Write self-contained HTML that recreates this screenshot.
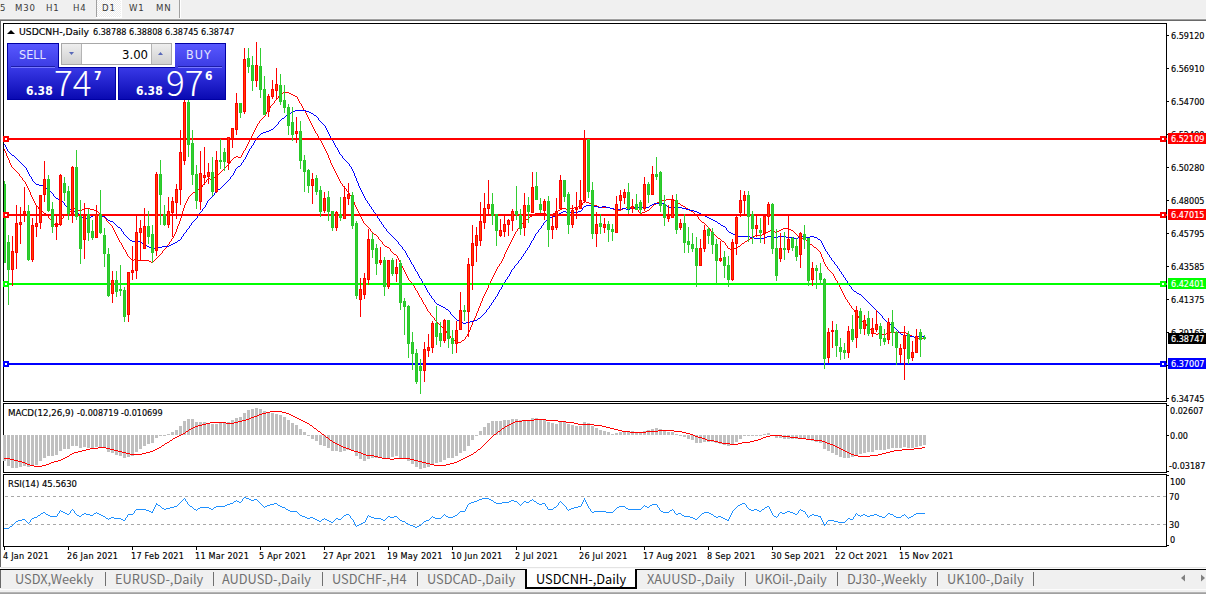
<!DOCTYPE html>
<html><head><meta charset="utf-8"><style>
*{margin:0;padding:0;box-sizing:border-box}
html,body{width:1206px;height:594px;overflow:hidden;background:#fff}
body{position:relative;font-family:"DejaVu Sans Condensed","DejaVu Sans","Liberation Sans",sans-serif}
.abs{position:absolute}
#tb{position:absolute;left:0;top:0;width:1206px;height:19px;background:#f0f0f0}
.tf{position:absolute;top:2px;font-size:9.5px;letter-spacing:0.9px;line-height:12px;color:#3a3a3a;font-family:"DejaVu Sans Condensed","DejaVu Sans",sans-serif;white-space:nowrap}
svg{position:absolute;left:0;top:0}
.ax{font-family:"DejaVu Sans Condensed","DejaVu Sans",sans-serif;font-size:9px;fill:#000;stroke:#000;stroke-width:0.15px}
.axw{fill:#fff;stroke:#fff}
.tl{letter-spacing:0.25px}
#tabbar{position:absolute;left:0;top:567px;width:1206px;height:27px;background:#f0f0f0}
.tab{position:absolute;top:3px;font-family:"Noto Sans CJK SC","Liberation Sans",sans-serif;font-size:12.8px;line-height:17px;color:#707070;white-space:nowrap}
.tab.act{color:#000}
.tsep{position:absolute;top:5px;width:1px;height:14px;background:#707070}
.pn{position:absolute;color:#fff;white-space:nowrap;font-family:"DejaVu Sans Condensed","DejaVu Sans",sans-serif;line-height:1}
</style></head><body>
<div id="tb">
<div class="tf" style="left:0">5</div>
<div class="tf" style="left:15px">M30</div>
<div class="tf" style="left:46px">H1</div>
<div class="tf" style="left:73px">H4</div>
<svg class="abs" style="left:96px;top:0" width="26" height="18" shape-rendering="crispEdges"><defs><pattern id="dith" width="2" height="2" patternUnits="userSpaceOnUse"><rect width="2" height="2" fill="#ececec"/><rect width="1" height="1" fill="#fff"/><rect x="1" y="1" width="1" height="1" fill="#fff"/></pattern></defs><rect x="0" y="0" width="1" height="17" fill="#a0a0a0"/><rect x="1" y="0" width="24" height="17" fill="url(#dith)"/><rect x="25" y="0" width="1" height="18" fill="#fff"/><rect x="0" y="17" width="26" height="1" fill="#fff"/></svg>
<div class="tf" style="left:102px">D1</div>
<div class="tf" style="left:129px">W1</div>
<div class="tf" style="left:156px">MN</div>
<div class="abs" style="left:179px;top:0;width:1px;height:18px;background:#a0a0a0"></div>
<div class="abs" style="left:180px;top:0;width:1px;height:18px;background:#fff"></div>
<div class="abs" style="left:0;top:18px;width:1206px;height:1px;background:#f4f4f4"></div>
</div>
<div class="abs" style="left:0;top:19px;width:1206px;height:1px;background:#a0a0a0"></div>
<div class="abs" style="left:0;top:20px;width:1206px;height:1px;background:#696969"></div>
<div class="abs" style="left:0;top:20px;width:1px;height:547px;background:#696969"></div>
<svg width="1206" height="594" viewBox="0 0 1206 594" shape-rendering="crispEdges">
<path d="M37 206h1v1h-1zM184 206h1v1h-1zM355 206h1v1h-1zM578 206h3v1h-3zM597 206h2v1h-2zM652 206h1v1h-1zM683 206h2v1h-2zM443 328h1v1h-1zM470 328h1v1h-1zM869 328h1v1h-1zM255 128h1v1h-1zM313 128h1v1h-1zM246 146h1v1h-1zM323 146h1v1h-1zM43 212h1v1h-1zM69 212h1v1h-1zM98 212h1v1h-1zM182 212h1v1h-1zM358 212h1v1h-1zM555 212h2v1h-2zM639 212h1v1h-1zM642 212h3v1h-3zM693 212h1v1h-1zM116 234h1v1h-1zM174 234h1v1h-1zM374 234h2v1h-2zM514 234h1v1h-1zM714 234h1v1h-1zM762 234h3v1h-3zM796 234h1v1h-1zM448 334h1v1h-1zM467 334h1v1h-1zM876 334h2v1h-2zM882 334h4v1h-4zM909 334h1v1h-1zM35 203h1v1h-1zM185 203h1v1h-1zM354 203h1v1h-1zM582 203h1v1h-1zM589 203h2v1h-2zM656 203h1v1h-1zM678 203h2v1h-2zM27 187h1v1h-1zM201 187h1v1h-1zM344 187h1v1h-1zM39 209h1v1h-1zM72 209h2v1h-2zM77 209h1v1h-1zM82 209h2v1h-2zM90 209h4v1h-4zM183 209h1v1h-1zM357 209h1v1h-1zM560 209h2v1h-2zM566 209h4v1h-4zM613 209h2v1h-2zM621 209h2v1h-2zM637 209h1v1h-1zM649 209h1v1h-1zM688 209h1v1h-1zM114 231h1v1h-1zM176 231h1v1h-1zM371 231h1v1h-1zM516 231h1v1h-1zM711 231h1v1h-1zM768 231h2v1h-2zM773 231h2v1h-2zM777 231h2v1h-2zM793 231h1v1h-1zM132 260h2v1h-2zM138 260h11v1h-11zM154 260h1v1h-1zM399 260h1v1h-1zM502 260h1v1h-1zM823 260h1v1h-1zM267 111h1v1h-1zM305 111h1v1h-1zM49 218h1v1h-1zM62 218h1v1h-1zM105 218h1v1h-1zM180 218h1v1h-1zM361 218h1v1h-1zM528 218h1v1h-1zM698 218h1v1h-1zM36 205h1v1h-1zM184 205h1v1h-1zM355 205h1v1h-1zM581 205h1v1h-1zM594 205h3v1h-3zM653 205h1v1h-1zM681 205h2v1h-2zM115 233h1v1h-1zM175 233h1v1h-1zM373 233h1v1h-1zM515 233h1v1h-1zM713 233h1v1h-1zM765 233h1v1h-1zM795 233h1v1h-1zM15 170h1v1h-1zM222 170h1v1h-1zM334 170h1v1h-1zM33 199h1v1h-1zM187 199h1v1h-1zM352 199h1v1h-1zM666 199h7v1h-7zM446 332h1v1h-1zM468 332h1v1h-1zM873 332h1v1h-1zM890 332h16v1h-16zM22 179h1v1h-1zM207 179h1v1h-1zM210 179h3v1h-3zM339 179h1v1h-1zM28 188h1v1h-1zM200 188h1v1h-1zM345 188h1v1h-1zM250 139h1v1h-1zM319 139h1v1h-1zM50 219h1v1h-1zM61 219h1v1h-1zM106 219h1v1h-1zM180 219h1v1h-1zM362 219h1v1h-1zM526 219h2v1h-2zM699 219h1v1h-1zM26 184h1v1h-1zM203 184h1v1h-1zM342 184h1v1h-1zM19 175h1v1h-1zM217 175h1v1h-1zM337 175h1v1h-1zM409 280h1v1h-1zM491 280h1v1h-1zM836 280h1v1h-1zM116 235h1v1h-1zM174 235h1v1h-1zM376 235h1v1h-1zM514 235h1v1h-1zM715 235h1v1h-1zM755 235h7v1h-7zM797 235h1v1h-1zM425 306h1v1h-1zM479 306h1v1h-1zM851 306h1v1h-1zM30 193h1v1h-1zM192 193h1v1h-1zM349 193h1v1h-1zM44 213h2v1h-2zM67 213h2v1h-2zM99 213h1v1h-1zM182 213h1v1h-1zM359 213h1v1h-1zM535 213h11v1h-11zM553 213h2v1h-2zM640 213h2v1h-2zM694 213h1v1h-1zM421 299h1v1h-1zM482 299h1v1h-1zM846 299h1v1h-1zM428 311h1v1h-1zM477 311h1v1h-1zM854 311h1v1h-1zM406 274h1v1h-1zM494 274h1v1h-1zM833 274h1v1h-1zM121 244h1v1h-1zM168 244h1v1h-1zM383 244h1v1h-1zM509 244h1v1h-1zM725 244h1v1h-1zM741 244h1v1h-1zM810 244h2v1h-2zM38 207h1v1h-1zM184 207h1v1h-1zM356 207h1v1h-1zM574 207h4v1h-4zM599 207h11v1h-11zM626 207h8v1h-8zM651 207h1v1h-1zM685 207h1v1h-1zM259 121h1v1h-1zM310 121h1v1h-1zM126 253h1v1h-1zM161 253h1v1h-1zM393 253h1v1h-1zM505 253h1v1h-1zM820 253h1v1h-1zM7 156h1v1h-1zM236 156h2v1h-2zM241 156h1v1h-1zM328 156h1v1h-1zM445 330h1v1h-1zM469 330h1v1h-1zM871 330h1v1h-1zM13 168h1v1h-1zM224 168h1v1h-1zM333 168h1v1h-1zM279 95h1v1h-1zM293 95h2v1h-2zM418 293h1v1h-1zM485 293h1v1h-1zM843 293h1v1h-1zM118 238h1v1h-1zM172 238h1v1h-1zM378 238h1v1h-1zM512 238h1v1h-1zM718 238h2v1h-2zM750 238h2v1h-2zM802 238h3v1h-3zM451 338h1v1h-1zM465 338h1v1h-1zM918 338h7v1h-7zM402 267h1v1h-1zM497 267h1v1h-1zM827 267h1v1h-1zM46 214h1v1h-1zM65 214h2v1h-2zM100 214h1v1h-1zM182 214h1v1h-1zM359 214h1v1h-1zM533 214h2v1h-2zM546 214h7v1h-7zM695 214h1v1h-1zM425 305h1v1h-1zM480 305h1v1h-1zM850 305h1v1h-1zM267 110h1v1h-1zM304 110h1v1h-1zM47 215h1v1h-1zM64 215h1v1h-1zM101 215h1v1h-1zM181 215h1v1h-1zM360 215h1v1h-1zM532 215h1v1h-1zM696 215h1v1h-1zM34 202h1v1h-1zM186 202h1v1h-1zM354 202h1v1h-1zM583 202h1v1h-1zM586 202h3v1h-3zM657 202h2v1h-2zM677 202h1v1h-1zM265 115h1v1h-1zM307 115h1v1h-1zM283 92h6v1h-6zM54 224h1v1h-1zM58 224h1v1h-1zM110 224h1v1h-1zM178 224h1v1h-1zM365 224h1v1h-1zM521 224h1v1h-1zM705 224h1v1h-1zM38 208h1v1h-1zM74 208h3v1h-3zM84 208h6v1h-6zM183 208h1v1h-1zM356 208h1v1h-1zM562 208h4v1h-4zM570 208h4v1h-4zM610 208h3v1h-3zM623 208h3v1h-3zM634 208h3v1h-3zM650 208h1v1h-1zM686 208h2v1h-2zM6 153h1v1h-1zM242 153h1v1h-1zM327 153h1v1h-1zM447 333h1v1h-1zM468 333h1v1h-1zM874 333h2v1h-2zM878 333h4v1h-4zM886 333h4v1h-4zM906 333h3v1h-3zM277 98h1v1h-1zM297 98h1v1h-1zM120 242h1v1h-1zM169 242h1v1h-1zM382 242h1v1h-1zM510 242h1v1h-1zM724 242h1v1h-1zM744 242h1v1h-1zM808 242h1v1h-1zM403 268h1v1h-1zM497 268h1v1h-1zM827 268h1v1h-1zM52 222h1v1h-1zM59 222h1v1h-1zM108 222h1v1h-1zM179 222h1v1h-1zM363 222h1v1h-1zM523 222h1v1h-1zM702 222h2v1h-2zM125 251h1v1h-1zM162 251h1v1h-1zM391 251h1v1h-1zM506 251h1v1h-1zM819 251h1v1h-1zM273 103h1v1h-1zM300 103h1v1h-1zM119 241h1v1h-1zM170 241h1v1h-1zM381 241h1v1h-1zM511 241h1v1h-1zM722 241h2v1h-2zM745 241h2v1h-2zM807 241h1v1h-1zM25 182h1v1h-1zM205 182h1v1h-1zM340 182h1v1h-1zM122 245h1v1h-1zM167 245h1v1h-1zM384 245h1v1h-1zM509 245h1v1h-1zM726 245h1v1h-1zM740 245h1v1h-1zM812 245h1v1h-1zM119 240h1v1h-1zM171 240h1v1h-1zM380 240h1v1h-1zM511 240h1v1h-1zM721 240h1v1h-1zM747 240h2v1h-2zM806 240h1v1h-1zM281 93h2v1h-2zM289 93h2v1h-2zM450 337h1v1h-1zM465 337h1v1h-1zM914 337h4v1h-4zM41 211h2v1h-2zM70 211h1v1h-1zM80 211h1v1h-1zM97 211h1v1h-1zM182 211h1v1h-1zM358 211h1v1h-1zM557 211h1v1h-1zM638 211h1v1h-1zM645 211h2v1h-2zM691 211h2v1h-2zM272 104h1v1h-1zM301 104h1v1h-1zM117 236h1v1h-1zM173 236h1v1h-1zM377 236h1v1h-1zM513 236h1v1h-1zM716 236h1v1h-1zM753 236h2v1h-2zM798 236h2v1h-2zM33 200h1v1h-1zM187 200h1v1h-1zM353 200h1v1h-1zM662 200h4v1h-4zM673 200h2v1h-2zM35 204h1v1h-1zM185 204h1v1h-1zM354 204h1v1h-1zM582 204h1v1h-1zM591 204h3v1h-3zM654 204h2v1h-2zM680 204h1v1h-1zM40 210h1v1h-1zM71 210h1v1h-1zM78 210h2v1h-2zM81 210h1v1h-1zM94 210h3v1h-3zM183 210h1v1h-1zM357 210h1v1h-1zM558 210h2v1h-2zM615 210h6v1h-6zM638 210h1v1h-1zM647 210h2v1h-2zM689 210h2v1h-2zM270 107h1v1h-1zM302 107h1v1h-1zM250 138h1v1h-1zM319 138h1v1h-1zM427 310h1v1h-1zM478 310h1v1h-1zM854 310h1v1h-1zM27 186h1v1h-1zM202 186h1v1h-1zM343 186h1v1h-1zM442 327h1v1h-1zM470 327h1v1h-1zM868 327h1v1h-1zM151 262h2v1h-2zM400 262h1v1h-1zM501 262h1v1h-1zM824 262h1v1h-1zM5 151h1v1h-1zM243 151h1v1h-1zM326 151h1v1h-1zM48 216h1v1h-1zM63 216h1v1h-1zM102 216h2v1h-2zM181 216h1v1h-1zM360 216h1v1h-1zM530 216h2v1h-2zM697 216h1v1h-1zM423 303h1v1h-1zM480 303h1v1h-1zM849 303h1v1h-1zM123 248h1v1h-1zM165 248h1v1h-1zM389 248h1v1h-1zM507 248h1v1h-1zM728 248h2v1h-2zM734 248h3v1h-3zM816 248h1v1h-1zM424 304h1v1h-1zM480 304h1v1h-1zM849 304h1v1h-1zM113 228h1v1h-1zM177 228h1v1h-1zM369 228h1v1h-1zM518 228h1v1h-1zM709 228h1v1h-1zM783 228h6v1h-6zM253 132h1v1h-1zM315 132h1v1h-1zM431 315h1v1h-1zM476 315h1v1h-1zM857 315h1v1h-1zM405 273h1v1h-1zM494 273h1v1h-1zM832 273h1v1h-1zM18 173h1v1h-1zM219 173h1v1h-1zM336 173h1v1h-1zM114 230h1v1h-1zM176 230h1v1h-1zM370 230h1v1h-1zM517 230h1v1h-1zM710 230h1v1h-1zM770 230h3v1h-3zM779 230h2v1h-2zM791 230h2v1h-2zM254 131h1v1h-1zM315 131h1v1h-1zM417 292h1v1h-1zM485 292h1v1h-1zM842 292h1v1h-1zM453 340h2v1h-2zM462 340h2v1h-2zM124 249h1v1h-1zM164 249h1v1h-1zM390 249h1v1h-1zM507 249h1v1h-1zM730 249h4v1h-4zM817 249h1v1h-1zM420 297h1v1h-1zM483 297h1v1h-1zM845 297h1v1h-1zM407 277h1v1h-1zM492 277h1v1h-1zM834 277h1v1h-1zM24 181h1v1h-1zM206 181h1v1h-1zM340 181h1v1h-1zM278 97h1v1h-1zM297 97h1v1h-1zM128 256h1v1h-1zM158 256h1v1h-1zM397 256h1v1h-1zM504 256h1v1h-1zM821 256h1v1h-1zM126 252h1v1h-1zM162 252h1v1h-1zM392 252h1v1h-1zM505 252h1v1h-1zM820 252h1v1h-1zM53 223h1v1h-1zM59 223h1v1h-1zM109 223h1v1h-1zM179 223h1v1h-1zM364 223h1v1h-1zM522 223h1v1h-1zM704 223h1v1h-1zM414 286h1v1h-1zM488 286h1v1h-1zM839 286h1v1h-1zM437 322h1v1h-1zM472 322h1v1h-1zM863 322h2v1h-2zM149 261h2v1h-2zM153 261h1v1h-1zM399 261h1v1h-1zM501 261h1v1h-1zM823 261h1v1h-1zM125 250h1v1h-1zM163 250h1v1h-1zM390 250h1v1h-1zM506 250h1v1h-1zM818 250h1v1h-1zM278 96h1v1h-1zM295 96h2v1h-2zM129 257h1v1h-1zM157 257h1v1h-1zM397 257h1v1h-1zM503 257h1v1h-1zM822 257h1v1h-1zM402 266h1v1h-1zM498 266h1v1h-1zM826 266h1v1h-1zM28 189h1v1h-1zM198 189h2v1h-2zM346 189h1v1h-1zM123 247h1v1h-1zM166 247h1v1h-1zM387 247h2v1h-2zM508 247h1v1h-1zM727 247h1v1h-1zM737 247h1v1h-1zM814 247h2v1h-2zM4 150h1v1h-1zM244 150h1v1h-1zM325 150h1v1h-1zM51 220h1v1h-1zM61 220h1v1h-1zM106 220h1v1h-1zM180 220h1v1h-1zM362 220h1v1h-1zM525 220h1v1h-1zM700 220h1v1h-1zM118 239h1v1h-1zM171 239h1v1h-1zM379 239h1v1h-1zM512 239h1v1h-1zM720 239h1v1h-1zM749 239h1v1h-1zM805 239h1v1h-1zM7 157h1v1h-1zM234 157h2v1h-2zM238 157h3v1h-3zM328 157h1v1h-1zM52 221h1v1h-1zM60 221h1v1h-1zM107 221h1v1h-1zM179 221h1v1h-1zM363 221h1v1h-1zM524 221h1v1h-1zM701 221h1v1h-1zM117 237h1v1h-1zM173 237h1v1h-1zM378 237h1v1h-1zM513 237h1v1h-1zM717 237h1v1h-1zM752 237h1v1h-1zM800 237h2v1h-2zM32 198h1v1h-1zM188 198h1v1h-1zM352 198h1v1h-1zM258 123h1v1h-1zM311 123h1v1h-1zM127 255h1v1h-1zM159 255h1v1h-1zM396 255h1v1h-1zM504 255h1v1h-1zM821 255h1v1h-1zM455 341h3v1h-3zM461 341h1v1h-1zM270 106h1v1h-1zM302 106h1v1h-1zM247 144h1v1h-1zM322 144h1v1h-1zM9 160h1v1h-1zM231 160h1v1h-1zM330 160h1v1h-1zM419 296h1v1h-1zM483 296h1v1h-1zM844 296h1v1h-1zM427 309h1v1h-1zM478 309h1v1h-1zM853 309h1v1h-1zM10 163h1v1h-1zM229 163h1v1h-1zM331 163h1v1h-1zM249 141h1v1h-1zM321 141h1v1h-1zM6 154h1v1h-1zM242 154h1v1h-1zM327 154h1v1h-1zM254 130h1v1h-1zM314 130h1v1h-1zM11 166h1v1h-1zM226 166h1v1h-1zM332 166h1v1h-1zM6 155h1v1h-1zM241 155h1v1h-1zM328 155h1v1h-1zM416 290h1v1h-1zM486 290h1v1h-1zM841 290h1v1h-1zM423 302h1v1h-1zM481 302h1v1h-1zM848 302h1v1h-1zM430 314h1v1h-1zM476 314h1v1h-1zM857 314h1v1h-1zM405 272h1v1h-1zM495 272h1v1h-1zM831 272h1v1h-1zM413 285h1v1h-1zM488 285h1v1h-1zM839 285h1v1h-1zM122 246h1v1h-1zM166 246h1v1h-1zM385 246h2v1h-2zM508 246h1v1h-1zM727 246h1v1h-1zM738 246h2v1h-2zM813 246h1v1h-1zM417 291h1v1h-1zM486 291h1v1h-1zM842 291h1v1h-1zM266 113h1v1h-1zM306 113h1v1h-1zM408 279h1v1h-1zM491 279h1v1h-1zM835 279h1v1h-1zM245 148h1v1h-1zM324 148h1v1h-1zM438 323h1v1h-1zM472 323h1v1h-1zM865 323h1v1h-1zM413 284h1v1h-1zM489 284h1v1h-1zM838 284h1v1h-1zM131 259h1v1h-1zM134 259h4v1h-4zM155 259h1v1h-1zM398 259h1v1h-1zM502 259h1v1h-1zM823 259h1v1h-1zM261 119h1v1h-1zM309 119h1v1h-1zM433 317h1v1h-1zM475 317h1v1h-1zM858 317h1v1h-1zM419 295h1v1h-1zM484 295h1v1h-1zM844 295h1v1h-1zM121 243h1v1h-1zM169 243h1v1h-1zM382 243h1v1h-1zM510 243h1v1h-1zM725 243h1v1h-1zM742 243h2v1h-2zM809 243h1v1h-1zM113 229h1v1h-1zM176 229h1v1h-1zM370 229h1v1h-1zM517 229h1v1h-1zM710 229h1v1h-1zM781 229h2v1h-2zM789 229h2v1h-2zM403 269h1v1h-1zM496 269h1v1h-1zM828 269h1v1h-1zM450 336h1v1h-1zM466 336h1v1h-1zM912 336h2v1h-2zM253 133h1v1h-1zM316 133h1v1h-1zM401 265h1v1h-1zM499 265h1v1h-1zM825 265h1v1h-1zM4 149h1v1h-1zM245 149h1v1h-1zM325 149h1v1h-1zM29 190h1v1h-1zM197 190h1v1h-1zM346 190h1v1h-1zM426 308h1v1h-1zM478 308h1v1h-1zM852 308h1v1h-1zM31 196h1v1h-1zM189 196h1v1h-1zM351 196h1v1h-1zM251 137h1v1h-1zM318 137h1v1h-1zM16 171h1v1h-1zM221 171h1v1h-1zM335 171h1v1h-1zM415 289h1v1h-1zM487 289h1v1h-1zM841 289h1v1h-1zM29 191h1v1h-1zM195 191h2v1h-2zM347 191h1v1h-1zM34 201h1v1h-1zM186 201h1v1h-1zM353 201h1v1h-1zM584 201h2v1h-2zM659 201h3v1h-3zM675 201h2v1h-2zM115 232h1v1h-1zM175 232h1v1h-1zM372 232h1v1h-1zM515 232h1v1h-1zM712 232h1v1h-1zM766 232h2v1h-2zM775 232h2v1h-2zM794 232h1v1h-1zM127 254h1v1h-1zM160 254h1v1h-1zM394 254h2v1h-2zM504 254h1v1h-1zM821 254h1v1h-1zM5 152h1v1h-1zM243 152h1v1h-1zM326 152h1v1h-1zM10 164h1v1h-1zM228 164h1v1h-1zM331 164h1v1h-1zM17 172h1v1h-1zM220 172h1v1h-1zM335 172h1v1h-1zM458 342h3v1h-3zM249 140h1v1h-1zM320 140h1v1h-1zM55 226h1v1h-1zM57 226h1v1h-1zM112 226h1v1h-1zM177 226h1v1h-1zM367 226h1v1h-1zM519 226h1v1h-1zM707 226h1v1h-1zM11 165h1v1h-1zM227 165h1v1h-1zM332 165h1v1h-1zM55 225h1v1h-1zM57 225h1v1h-1zM111 225h1v1h-1zM178 225h1v1h-1zM366 225h1v1h-1zM520 225h1v1h-1zM706 225h1v1h-1zM404 270h1v1h-1zM496 270h1v1h-1zM829 270h1v1h-1zM404 271h1v1h-1zM495 271h1v1h-1zM830 271h1v1h-1zM412 283h1v1h-1zM489 283h1v1h-1zM838 283h1v1h-1zM452 339h1v1h-1zM464 339h1v1h-1zM436 321h1v1h-1zM473 321h1v1h-1zM861 321h2v1h-2zM430 313h1v1h-1zM476 313h1v1h-1zM856 313h1v1h-1zM56 227h1v1h-1zM112 227h1v1h-1zM177 227h1v1h-1zM368 227h1v1h-1zM519 227h1v1h-1zM708 227h1v1h-1zM414 287h1v1h-1zM488 287h1v1h-1zM840 287h1v1h-1zM449 335h1v1h-1zM467 335h1v1h-1zM910 335h2v1h-2zM248 143h1v1h-1zM322 143h1v1h-1zM26 185h1v1h-1zM202 185h1v1h-1zM342 185h1v1h-1zM248 142h1v1h-1zM321 142h1v1h-1zM21 177h1v1h-1zM214 177h2v1h-2zM338 177h1v1h-1zM246 147h1v1h-1zM324 147h1v1h-1zM422 301h1v1h-1zM481 301h1v1h-1zM847 301h1v1h-1zM432 316h1v1h-1zM475 316h1v1h-1zM858 316h1v1h-1zM418 294h1v1h-1zM484 294h1v1h-1zM843 294h1v1h-1zM30 194h1v1h-1zM191 194h1v1h-1zM349 194h1v1h-1zM401 264h1v1h-1zM499 264h1v1h-1zM825 264h1v1h-1zM252 135h1v1h-1zM317 135h1v1h-1zM444 329h1v1h-1zM470 329h1v1h-1zM870 329h1v1h-1zM426 307h1v1h-1zM479 307h1v1h-1zM851 307h1v1h-1zM422 300h1v1h-1zM482 300h1v1h-1zM847 300h1v1h-1zM415 288h1v1h-1zM487 288h1v1h-1zM840 288h1v1h-1zM259 122h1v1h-1zM310 122h1v1h-1zM400 263h1v1h-1zM500 263h1v1h-1zM824 263h1v1h-1zM257 125h1v1h-1zM312 125h1v1h-1zM411 282h1v1h-1zM490 282h1v1h-1zM837 282h1v1h-1zM406 275h1v1h-1zM493 275h1v1h-1zM833 275h1v1h-1zM429 312h1v1h-1zM477 312h1v1h-1zM855 312h1v1h-1zM48 217h1v1h-1zM63 217h1v1h-1zM104 217h1v1h-1zM181 217h1v1h-1zM361 217h1v1h-1zM529 217h1v1h-1zM698 217h1v1h-1zM14 169h1v1h-1zM223 169h1v1h-1zM334 169h1v1h-1zM434 319h1v1h-1zM474 319h1v1h-1zM859 319h1v1h-1zM410 281h1v1h-1zM490 281h1v1h-1zM837 281h1v1h-1zM130 258h1v1h-1zM156 258h1v1h-1zM398 258h1v1h-1zM503 258h1v1h-1zM822 258h1v1h-1zM260 120h1v1h-1zM309 120h1v1h-1zM440 325h1v1h-1zM471 325h1v1h-1zM866 325h1v1h-1zM247 145h1v1h-1zM323 145h1v1h-1zM22 178h1v1h-1zM208 178h2v1h-2zM213 178h1v1h-1zM338 178h1v1h-1zM30 192h1v1h-1zM193 192h2v1h-2zM348 192h1v1h-1zM256 127h1v1h-1zM313 127h1v1h-1zM280 94h1v1h-1zM291 94h2v1h-2zM256 126h1v1h-1zM312 126h1v1h-1zM9 162h1v1h-1zM230 162h1v1h-1zM330 162h1v1h-1zM12 167h1v1h-1zM225 167h1v1h-1zM333 167h1v1h-1zM421 298h1v1h-1zM482 298h1v1h-1zM845 298h1v1h-1zM20 176h1v1h-1zM216 176h1v1h-1zM337 176h1v1h-1zM263 117h1v1h-1zM308 117h1v1h-1zM275 100h1v1h-1zM298 100h1v1h-1zM434 318h1v1h-1zM474 318h1v1h-1zM859 318h1v1h-1zM252 134h1v1h-1zM317 134h1v1h-1zM9 161h1v1h-1zM230 161h1v1h-1zM330 161h1v1h-1zM25 183h1v1h-1zM204 183h1v1h-1zM341 183h1v1h-1zM439 324h1v1h-1zM472 324h1v1h-1zM866 324h1v1h-1zM32 197h1v1h-1zM188 197h1v1h-1zM351 197h1v1h-1zM446 331h1v1h-1zM469 331h1v1h-1zM872 331h1v1h-1zM257 124h1v1h-1zM311 124h1v1h-1zM255 129h1v1h-1zM314 129h1v1h-1zM274 102h1v1h-1zM299 102h1v1h-1zM435 320h1v1h-1zM473 320h1v1h-1zM860 320h1v1h-1zM262 118h1v1h-1zM308 118h1v1h-1zM266 112h1v1h-1zM305 112h1v1h-1zM269 108h1v1h-1zM303 108h1v1h-1zM8 159h1v1h-1zM232 159h1v1h-1zM329 159h1v1h-1zM408 278h1v1h-1zM492 278h1v1h-1zM835 278h1v1h-1zM407 276h1v1h-1zM493 276h1v1h-1zM834 276h1v1h-1zM19 174h1v1h-1zM218 174h1v1h-1zM336 174h1v1h-1zM31 195h1v1h-1zM190 195h1v1h-1zM350 195h1v1h-1zM251 136h1v1h-1zM318 136h1v1h-1zM264 116h1v1h-1zM307 116h1v1h-1zM8 158h1v1h-1zM233 158h1v1h-1zM329 158h1v1h-1zM23 180h1v1h-1zM206 180h1v1h-1zM339 180h1v1h-1zM265 114h1v1h-1zM306 114h1v1h-1zM268 109h1v1h-1zM303 109h1v1h-1zM441 326h1v1h-1zM471 326h1v1h-1zM867 326h1v1h-1zM274 101h1v1h-1zM299 101h1v1h-1zM276 99h1v1h-1zM298 99h1v1h-1zM271 105h1v1h-1zM301 105h1v1h-1z" fill="#ff0000"/>
<path d="M126 236h1v1h-1zM182 236h1v1h-1zM392 236h1v1h-1zM534 236h1v1h-1zM738 236h12v1h-12zM767 236h7v1h-7zM778 236h8v1h-8zM802 236h4v1h-4zM810 236h4v1h-4zM123 232h1v1h-1zM185 232h1v1h-1zM388 232h1v1h-1zM537 232h1v1h-1zM729 232h2v1h-2zM120 228h1v1h-1zM188 228h1v1h-1zM385 228h1v1h-1zM540 228h1v1h-1zM726 228h1v1h-1zM285 116h1v1h-1zM316 116h1v1h-1zM115 224h1v1h-1zM191 224h1v1h-1zM382 224h1v1h-1zM543 224h1v1h-1zM720 224h1v1h-1zM79 214h1v1h-1zM95 214h3v1h-3zM199 214h1v1h-1zM375 214h1v1h-1zM557 214h2v1h-2zM701 214h2v1h-2zM254 141h1v1h-1zM333 141h1v1h-1zM72 210h1v1h-1zM202 210h1v1h-1zM373 210h1v1h-1zM581 210h1v1h-1zM690 210h4v1h-4zM28 172h1v1h-1zM234 172h1v1h-1zM353 172h1v1h-1zM32 179h1v1h-1zM229 179h1v1h-1zM356 179h1v1h-1zM277 124h1v1h-1zM323 124h1v1h-1zM129 239h1v1h-1zM180 239h1v1h-1zM395 239h1v1h-1zM533 239h1v1h-1zM818 239h2v1h-2zM12 155h2v1h-2zM246 155h1v1h-1zM341 155h1v1h-1zM67 207h2v1h-2zM204 207h1v1h-1zM371 207h1v1h-1zM583 207h1v1h-1zM598 207h4v1h-4zM606 207h4v1h-4zM634 207h15v1h-15zM668 207h14v1h-14zM403 249h1v1h-1zM527 249h1v1h-1zM825 249h1v1h-1zM55 197h1v1h-1zM211 197h1v1h-1zM364 197h1v1h-1zM258 136h1v1h-1zM330 136h1v1h-1zM66 206h1v1h-1zM205 206h1v1h-1zM370 206h1v1h-1zM584 206h2v1h-2zM594 206h4v1h-4zM602 206h4v1h-4zM649 206h1v1h-1zM667 206h1v1h-1zM406 254h1v1h-1zM523 254h1v1h-1zM828 254h1v1h-1zM84 219h2v1h-2zM107 219h1v1h-1zM195 219h1v1h-1zM379 219h1v1h-1zM547 219h1v1h-1zM711 219h2v1h-2zM80 215h1v1h-1zM93 215h2v1h-2zM98 215h4v1h-4zM198 215h1v1h-1zM376 215h1v1h-1zM555 215h2v1h-2zM703 215h2v1h-2zM69 208h1v1h-1zM203 208h1v1h-1zM371 208h1v1h-1zM582 208h1v1h-1zM610 208h4v1h-4zM622 208h4v1h-4zM630 208h4v1h-4zM682 208h4v1h-4zM73 211h2v1h-2zM201 211h1v1h-1zM373 211h1v1h-1zM563 211h3v1h-3zM578 211h3v1h-3zM694 211h3v1h-3zM415 269h1v1h-1zM512 269h1v1h-1zM839 269h1v1h-1zM144 244h1v1h-1zM171 244h2v1h-2zM399 244h1v1h-1zM530 244h1v1h-1zM822 244h1v1h-1zM429 294h1v1h-1zM497 294h1v1h-1zM859 294h2v1h-2zM141 242h1v1h-1zM175 242h2v1h-2zM398 242h1v1h-1zM531 242h1v1h-1zM821 242h1v1h-1zM269 130h2v1h-2zM327 130h1v1h-1zM271 129h2v1h-2zM326 129h1v1h-1zM108 220h2v1h-2zM194 220h1v1h-1zM379 220h1v1h-1zM546 220h1v1h-1zM713 220h2v1h-2zM901 334h2v1h-2zM421 280h1v1h-1zM505 280h1v1h-1zM846 280h1v1h-1zM295 110h11v1h-11zM18 160h1v1h-1zM243 160h1v1h-1zM345 160h1v1h-1zM75 212h2v1h-2zM200 212h1v1h-1zM374 212h1v1h-1zM561 212h2v1h-2zM566 212h12v1h-12zM697 212h2v1h-2zM64 203h1v1h-1zM206 203h1v1h-1zM368 203h1v1h-1zM654 203h11v1h-11zM411 263h1v1h-1zM517 263h1v1h-1zM834 263h1v1h-1zM409 259h1v1h-1zM520 259h1v1h-1zM831 259h1v1h-1zM127 237h1v1h-1zM181 237h1v1h-1zM393 237h1v1h-1zM534 237h1v1h-1zM750 237h4v1h-4zM765 237h2v1h-2zM774 237h4v1h-4zM786 237h8v1h-8zM798 237h4v1h-4zM806 237h4v1h-4zM814 237h3v1h-3zM418 275h1v1h-1zM509 275h1v1h-1zM843 275h1v1h-1zM426 288h1v1h-1zM501 288h1v1h-1zM851 288h1v1h-1zM147 246h2v1h-2zM162 246h7v1h-7zM401 246h1v1h-1zM529 246h1v1h-1zM823 246h1v1h-1zM20 162h1v1h-1zM242 162h1v1h-1zM347 162h1v1h-1zM128 238h1v1h-1zM181 238h1v1h-1zM394 238h1v1h-1zM533 238h1v1h-1zM754 238h11v1h-11zM794 238h4v1h-4zM817 238h1v1h-1zM433 299h1v1h-1zM494 299h1v1h-1zM865 299h1v1h-1zM77 213h2v1h-2zM199 213h1v1h-1zM375 213h1v1h-1zM559 213h2v1h-2zM699 213h2v1h-2zM130 240h2v1h-2zM178 240h2v1h-2zM396 240h1v1h-1zM532 240h1v1h-1zM820 240h1v1h-1zM454 317h1v1h-1zM480 317h1v1h-1zM882 317h1v1h-1zM114 223h1v1h-1zM191 223h1v1h-1zM381 223h1v1h-1zM543 223h1v1h-1zM718 223h2v1h-2zM289 113h2v1h-2zM311 113h2v1h-2zM425 287h1v1h-1zM501 287h1v1h-1zM851 287h1v1h-1zM450 312h1v1h-1zM485 312h1v1h-1zM878 312h1v1h-1zM461 322h2v1h-2zM466 322h4v1h-4zM887 322h1v1h-1zM434 301h1v1h-1zM493 301h1v1h-1zM867 301h1v1h-1zM52 193h1v1h-1zM214 193h1v1h-1zM362 193h1v1h-1zM83 218h1v1h-1zM86 218h3v1h-3zM106 218h1v1h-1zM196 218h1v1h-1zM378 218h1v1h-1zM548 218h2v1h-2zM709 218h2v1h-2zM29 175h1v1h-1zM232 175h1v1h-1zM354 175h1v1h-1zM441 306h2v1h-2zM489 306h1v1h-1zM872 306h1v1h-1zM17 159h1v1h-1zM244 159h1v1h-1zM344 159h1v1h-1zM132 241h9v1h-9zM177 241h1v1h-1zM397 241h1v1h-1zM531 241h1v1h-1zM821 241h1v1h-1zM70 209h2v1h-2zM202 209h1v1h-1zM372 209h1v1h-1zM582 209h1v1h-1zM614 209h8v1h-8zM626 209h4v1h-4zM686 209h4v1h-4zM149 247h2v1h-2zM158 247h4v1h-4zM402 247h1v1h-1zM528 247h1v1h-1zM824 247h1v1h-1zM410 260h1v1h-1zM519 260h1v1h-1zM832 260h1v1h-1zM419 276h1v1h-1zM508 276h1v1h-1zM843 276h1v1h-1zM293 111h2v1h-2zM306 111h3v1h-3zM27 171h1v1h-1zM234 171h1v1h-1zM353 171h1v1h-1zM122 231h1v1h-1zM186 231h1v1h-1zM387 231h1v1h-1zM538 231h1v1h-1zM728 231h1v1h-1zM280 120h1v1h-1zM319 120h1v1h-1zM463 323h3v1h-3zM888 323h1v1h-1zM407 255h1v1h-1zM523 255h1v1h-1zM829 255h1v1h-1zM428 292h1v1h-1zM498 292h1v1h-1zM856 292h1v1h-1zM457 320h2v1h-2zM474 320h3v1h-3zM885 320h1v1h-1zM64 204h1v1h-1zM206 204h1v1h-1zM369 204h1v1h-1zM652 204h2v1h-2zM665 204h1v1h-1zM450 313h1v1h-1zM484 313h1v1h-1zM879 313h1v1h-1zM273 128h1v1h-1zM326 128h1v1h-1zM151 248h7v1h-7zM402 248h1v1h-1zM527 248h1v1h-1zM824 248h1v1h-1zM410 261h1v1h-1zM518 261h1v1h-1zM833 261h1v1h-1zM121 229h1v1h-1zM187 229h1v1h-1zM386 229h1v1h-1zM539 229h1v1h-1zM726 229h1v1h-1zM425 286h1v1h-1zM502 286h1v1h-1zM850 286h1v1h-1zM110 221h3v1h-3zM193 221h1v1h-1zM380 221h1v1h-1zM545 221h1v1h-1zM715 221h2v1h-2zM65 205h1v1h-1zM205 205h1v1h-1zM369 205h1v1h-1zM586 205h8v1h-8zM650 205h2v1h-2zM666 205h1v1h-1zM118 227h2v1h-2zM189 227h1v1h-1zM384 227h1v1h-1zM541 227h1v1h-1zM725 227h1v1h-1zM451 314h1v1h-1zM483 314h1v1h-1zM880 314h1v1h-1zM31 178h1v1h-1zM230 178h1v1h-1zM356 178h1v1h-1zM253 143h1v1h-1zM334 143h1v1h-1zM124 234h1v1h-1zM183 234h1v1h-1zM390 234h1v1h-1zM535 234h1v1h-1zM733 234h2v1h-2zM35 183h1v1h-1zM225 183h1v1h-1zM358 183h1v1h-1zM897 330h1v1h-1zM32 180h1v1h-1zM228 180h1v1h-1zM356 180h1v1h-1zM903 335h7v1h-7zM427 291h1v1h-1zM499 291h1v1h-1zM854 291h2v1h-2zM429 293h1v1h-1zM498 293h1v1h-1zM857 293h2v1h-2zM898 331h1v1h-1zM422 282h1v1h-1zM504 282h1v1h-1zM847 282h1v1h-1zM25 167h1v1h-1zM237 167h1v1h-1zM351 167h1v1h-1zM28 173h1v1h-1zM233 173h1v1h-1zM354 173h1v1h-1zM291 112h2v1h-2zM309 112h2v1h-2zM7 150h1v1h-1zM249 150h1v1h-1zM338 150h1v1h-1zM121 230h1v1h-1zM186 230h1v1h-1zM386 230h1v1h-1zM538 230h1v1h-1zM727 230h1v1h-1zM284 117h1v1h-1zM317 117h1v1h-1zM423 284h1v1h-1zM503 284h1v1h-1zM849 284h1v1h-1zM31 177h1v1h-1zM230 177h1v1h-1zM355 177h1v1h-1zM431 297h1v1h-1zM495 297h1v1h-1zM863 297h1v1h-1zM261 133h2v1h-2zM328 133h1v1h-1zM424 285h1v1h-1zM502 285h1v1h-1zM849 285h1v1h-1zM22 164h1v1h-1zM241 164h1v1h-1zM349 164h1v1h-1zM910 336h4v1h-4zM918 336h7v1h-7zM81 216h1v1h-1zM91 216h2v1h-2zM102 216h3v1h-3zM197 216h1v1h-1zM377 216h1v1h-1zM553 216h2v1h-2zM705 216h2v1h-2zM288 114h1v1h-1zM313 114h1v1h-1zM445 308h1v1h-1zM488 308h1v1h-1zM874 308h1v1h-1zM58 199h2v1h-2zM209 199h1v1h-1zM365 199h1v1h-1zM47 189h2v1h-2zM218 189h2v1h-2zM360 189h1v1h-1zM430 295h1v1h-1zM497 295h1v1h-1zM861 295h1v1h-1zM420 278h1v1h-1zM507 278h1v1h-1zM845 278h1v1h-1zM416 271h1v1h-1zM511 271h1v1h-1zM840 271h1v1h-1zM417 273h1v1h-1zM510 273h1v1h-1zM841 273h1v1h-1zM60 200h2v1h-2zM208 200h1v1h-1zM366 200h1v1h-1zM446 309h2v1h-2zM487 309h1v1h-1zM875 309h1v1h-1zM29 174h1v1h-1zM233 174h1v1h-1zM354 174h1v1h-1zM426 289h1v1h-1zM500 289h1v1h-1zM852 289h1v1h-1zM15 157h1v1h-1zM245 157h1v1h-1zM342 157h1v1h-1zM266 131h3v1h-3zM327 131h1v1h-1zM116 225h1v1h-1zM190 225h1v1h-1zM383 225h1v1h-1zM542 225h1v1h-1zM721 225h2v1h-2zM459 321h2v1h-2zM470 321h4v1h-4zM886 321h1v1h-1zM453 316h1v1h-1zM481 316h1v1h-1zM882 316h1v1h-1zM281 119h1v1h-1zM318 119h1v1h-1zM431 296h1v1h-1zM496 296h1v1h-1zM862 296h1v1h-1zM24 166h1v1h-1zM238 166h2v1h-2zM350 166h1v1h-1zM405 252h1v1h-1zM525 252h1v1h-1zM827 252h1v1h-1zM419 277h1v1h-1zM507 277h1v1h-1zM844 277h1v1h-1zM427 290h1v1h-1zM499 290h1v1h-1zM853 290h1v1h-1zM409 258h1v1h-1zM521 258h1v1h-1zM831 258h1v1h-1zM7 149h1v1h-1zM249 149h1v1h-1zM337 149h1v1h-1zM82 217h1v1h-1zM89 217h2v1h-2zM105 217h1v1h-1zM197 217h1v1h-1zM377 217h1v1h-1zM550 217h3v1h-3zM707 217h2v1h-2zM275 126h1v1h-1zM325 126h1v1h-1zM423 283h1v1h-1zM503 283h1v1h-1zM848 283h1v1h-1zM413 266h1v1h-1zM514 266h1v1h-1zM837 266h1v1h-1zM56 198h2v1h-2zM210 198h1v1h-1zM365 198h1v1h-1zM142 243h2v1h-2zM173 243h2v1h-2zM398 243h1v1h-1zM530 243h1v1h-1zM822 243h1v1h-1zM415 270h1v1h-1zM511 270h1v1h-1zM839 270h1v1h-1zM53 195h1v1h-1zM213 195h1v1h-1zM363 195h1v1h-1zM437 304h2v1h-2zM491 304h1v1h-1zM870 304h1v1h-1zM256 138h1v1h-1zM331 138h1v1h-1zM439 305h2v1h-2zM490 305h1v1h-1zM871 305h1v1h-1zM9 152h1v1h-1zM248 152h1v1h-1zM339 152h1v1h-1zM113 222h1v1h-1zM192 222h1v1h-1zM381 222h1v1h-1zM544 222h1v1h-1zM717 222h1v1h-1zM49 190h1v1h-1zM217 190h1v1h-1zM361 190h1v1h-1zM125 235h1v1h-1zM183 235h1v1h-1zM391 235h1v1h-1zM535 235h1v1h-1zM735 235h3v1h-3zM286 115h2v1h-2zM314 115h2v1h-2zM6 148h1v1h-1zM250 148h1v1h-1zM337 148h1v1h-1zM408 257h1v1h-1zM521 257h1v1h-1zM830 257h1v1h-1zM30 176h1v1h-1zM231 176h1v1h-1zM355 176h1v1h-1zM50 191h1v1h-1zM216 191h1v1h-1zM361 191h1v1h-1zM145 245h2v1h-2zM169 245h2v1h-2zM400 245h1v1h-1zM529 245h1v1h-1zM823 245h1v1h-1zM282 118h2v1h-2zM318 118h1v1h-1zM5 145h1v1h-1zM252 145h1v1h-1zM335 145h1v1h-1zM914 337h4v1h-4zM123 233h1v1h-1zM184 233h1v1h-1zM389 233h1v1h-1zM536 233h1v1h-1zM731 233h2v1h-2zM414 267h1v1h-1zM514 267h1v1h-1zM837 267h1v1h-1zM455 318h1v1h-1zM478 318h2v1h-2zM883 318h1v1h-1zM404 250h1v1h-1zM526 250h1v1h-1zM825 250h1v1h-1zM891 325h2v1h-2zM412 264h1v1h-1zM516 264h1v1h-1zM835 264h1v1h-1zM263 132h3v1h-3zM328 132h1v1h-1zM54 196h1v1h-1zM212 196h1v1h-1zM364 196h1v1h-1zM893 326h1v1h-1zM46 188h1v1h-1zM220 188h1v1h-1zM360 188h1v1h-1zM276 125h1v1h-1zM324 125h1v1h-1zM279 121h1v1h-1zM320 121h1v1h-1zM26 168h1v1h-1zM236 168h1v1h-1zM351 168h1v1h-1zM10 153h1v1h-1zM247 153h1v1h-1zM339 153h1v1h-1zM899 332h1v1h-1zM117 226h1v1h-1zM189 226h1v1h-1zM383 226h1v1h-1zM541 226h1v1h-1zM723 226h2v1h-2zM26 169h1v1h-1zM235 169h1v1h-1zM352 169h1v1h-1zM5 146h1v1h-1zM251 146h1v1h-1zM335 146h1v1h-1zM8 151h1v1h-1zM248 151h1v1h-1zM338 151h1v1h-1zM443 307h2v1h-2zM489 307h1v1h-1zM873 307h1v1h-1zM889 324h2v1h-2zM900 333h1v1h-1zM27 170h1v1h-1zM235 170h1v1h-1zM352 170h1v1h-1zM274 127h1v1h-1zM325 127h1v1h-1zM19 161h1v1h-1zM243 161h1v1h-1zM346 161h1v1h-1zM63 202h1v1h-1zM207 202h1v1h-1zM367 202h1v1h-1zM43 186h2v1h-2zM222 186h1v1h-1zM359 186h1v1h-1zM422 281h1v1h-1zM505 281h1v1h-1zM847 281h1v1h-1zM449 311h1v1h-1zM486 311h1v1h-1zM877 311h1v1h-1zM407 256h1v1h-1zM522 256h1v1h-1zM829 256h1v1h-1zM45 187h1v1h-1zM221 187h1v1h-1zM359 187h1v1h-1zM36 184h3v1h-3zM224 184h1v1h-1zM358 184h1v1h-1zM452 315h1v1h-1zM482 315h1v1h-1zM881 315h1v1h-1zM33 181h1v1h-1zM227 181h1v1h-1zM357 181h1v1h-1zM39 185h4v1h-4zM223 185h1v1h-1zM358 185h1v1h-1zM23 165h1v1h-1zM240 165h1v1h-1zM349 165h1v1h-1zM34 182h1v1h-1zM226 182h1v1h-1zM357 182h1v1h-1zM255 139h1v1h-1zM331 139h1v1h-1zM278 122h1v1h-1zM321 122h1v1h-1zM414 268h1v1h-1zM513 268h1v1h-1zM838 268h1v1h-1zM411 262h1v1h-1zM518 262h1v1h-1zM834 262h1v1h-1zM255 140h1v1h-1zM332 140h1v1h-1zM62 201h1v1h-1zM207 201h1v1h-1zM367 201h1v1h-1zM448 310h1v1h-1zM486 310h1v1h-1zM876 310h1v1h-1zM456 319h1v1h-1zM477 319h1v1h-1zM884 319h1v1h-1zM434 300h1v1h-1zM493 300h1v1h-1zM866 300h1v1h-1zM6 147h1v1h-1zM251 147h1v1h-1zM336 147h1v1h-1zM432 298h1v1h-1zM495 298h1v1h-1zM864 298h1v1h-1zM4 144h1v1h-1zM253 144h1v1h-1zM334 144h1v1h-1zM405 251h1v1h-1zM525 251h1v1h-1zM826 251h1v1h-1zM413 265h1v1h-1zM515 265h1v1h-1zM836 265h1v1h-1zM418 274h1v1h-1zM509 274h1v1h-1zM842 274h1v1h-1zM278 123h1v1h-1zM322 123h1v1h-1zM11 154h1v1h-1zM247 154h1v1h-1zM340 154h1v1h-1zM421 279h1v1h-1zM506 279h1v1h-1zM845 279h1v1h-1zM51 192h1v1h-1zM215 192h1v1h-1zM362 192h1v1h-1zM53 194h1v1h-1zM214 194h1v1h-1zM363 194h1v1h-1zM895 328h1v1h-1zM436 303h1v1h-1zM491 303h1v1h-1zM869 303h1v1h-1zM21 163h1v1h-1zM241 163h1v1h-1zM348 163h1v1h-1zM435 302h1v1h-1zM492 302h1v1h-1zM868 302h1v1h-1zM417 272h1v1h-1zM510 272h1v1h-1zM841 272h1v1h-1zM14 156h1v1h-1zM246 156h1v1h-1zM342 156h1v1h-1zM406 253h1v1h-1zM524 253h1v1h-1zM827 253h1v1h-1zM254 142h1v1h-1zM333 142h1v1h-1zM257 137h1v1h-1zM330 137h1v1h-1zM894 327h1v1h-1zM260 134h1v1h-1zM329 134h1v1h-1zM259 135h1v1h-1zM329 135h1v1h-1zM16 158h1v1h-1zM245 158h1v1h-1zM343 158h1v1h-1zM896 329h1v1h-1z" fill="#0000ff"/>
<rect x="4" y="138" width="1162" height="2" fill="#ff0000"/>
<rect x="4" y="214" width="1162" height="2" fill="#ff0000"/>
<rect x="4" y="283" width="1162" height="2" fill="#00ff00"/>
<rect x="4" y="363" width="1162" height="2" fill="#0000ff"/>
<g><rect x="4" y="181" width="1" height="82" fill="#32cd32"/>
<rect x="3" y="184" width="3" height="79" fill="#26c826"/>
<rect x="4" y="184" width="1" height="79" fill="#32cd32"/>
<rect x="8" y="235" width="1" height="70" fill="#32cd32"/>
<rect x="7" y="242" width="3" height="28" fill="#26c826"/>
<rect x="8" y="242" width="1" height="28" fill="#32cd32"/>
<rect x="12" y="236" width="1" height="50" fill="#ff0000"/>
<rect x="11" y="251" width="3" height="19" fill="#ff0000"/>
<rect x="12" y="252" width="1" height="17" fill="#ff4000"/>
<rect x="16" y="205" width="1" height="64" fill="#ff0000"/>
<rect x="15" y="223" width="3" height="30" fill="#ff0000"/>
<rect x="16" y="224" width="1" height="28" fill="#ff4000"/>
<rect x="20" y="207" width="1" height="37" fill="#ff0000"/>
<rect x="19" y="222" width="3" height="3" fill="#ff0000"/>
<rect x="20" y="223" width="1" height="1" fill="#ff4000"/>
<rect x="24" y="187" width="1" height="35" fill="#ff0000"/>
<rect x="23" y="211" width="3" height="3" fill="#ff0000"/>
<rect x="24" y="212" width="1" height="1" fill="#ff4000"/>
<rect x="28" y="205" width="1" height="56" fill="#32cd32"/>
<rect x="27" y="211" width="3" height="49" fill="#26c826"/>
<rect x="28" y="211" width="1" height="49" fill="#32cd32"/>
<rect x="32" y="218" width="1" height="44" fill="#ff0000"/>
<rect x="31" y="225" width="3" height="35" fill="#ff0000"/>
<rect x="32" y="226" width="1" height="33" fill="#ff4000"/>
<rect x="36" y="206" width="1" height="31" fill="#ff0000"/>
<rect x="35" y="223" width="3" height="4" fill="#ff0000"/>
<rect x="36" y="224" width="1" height="2" fill="#ff4000"/>
<rect x="40" y="195" width="1" height="34" fill="#ff0000"/>
<rect x="39" y="195" width="3" height="28" fill="#ff0000"/>
<rect x="40" y="196" width="1" height="26" fill="#ff4000"/>
<rect x="44" y="161" width="1" height="41" fill="#ff0000"/>
<rect x="43" y="179" width="3" height="16" fill="#ff0000"/>
<rect x="44" y="180" width="1" height="14" fill="#ff4000"/>
<rect x="48" y="175" width="1" height="37" fill="#32cd32"/>
<rect x="47" y="179" width="3" height="32" fill="#26c826"/>
<rect x="48" y="179" width="1" height="32" fill="#32cd32"/>
<rect x="52" y="202" width="1" height="31" fill="#32cd32"/>
<rect x="51" y="209" width="3" height="18" fill="#26c826"/>
<rect x="52" y="209" width="1" height="18" fill="#32cd32"/>
<rect x="56" y="216" width="1" height="24" fill="#ff0000"/>
<rect x="55" y="223" width="3" height="2" fill="#ff0000"/>
<rect x="60" y="174" width="1" height="52" fill="#ff0000"/>
<rect x="59" y="175" width="3" height="50" fill="#ff0000"/>
<rect x="60" y="176" width="1" height="48" fill="#ff4000"/>
<rect x="64" y="177" width="1" height="24" fill="#32cd32"/>
<rect x="63" y="183" width="3" height="10" fill="#26c826"/>
<rect x="64" y="183" width="1" height="10" fill="#32cd32"/>
<rect x="68" y="186" width="1" height="34" fill="#32cd32"/>
<rect x="67" y="191" width="3" height="23" fill="#26c826"/>
<rect x="68" y="191" width="1" height="23" fill="#32cd32"/>
<rect x="72" y="166" width="1" height="57" fill="#ff0000"/>
<rect x="71" y="167" width="3" height="47" fill="#ff0000"/>
<rect x="72" y="168" width="1" height="45" fill="#ff4000"/>
<rect x="76" y="150" width="1" height="70" fill="#32cd32"/>
<rect x="75" y="167" width="3" height="50" fill="#26c826"/>
<rect x="76" y="167" width="1" height="50" fill="#32cd32"/>
<rect x="80" y="200" width="1" height="64" fill="#32cd32"/>
<rect x="79" y="216" width="3" height="33" fill="#26c826"/>
<rect x="80" y="216" width="1" height="33" fill="#32cd32"/>
<rect x="84" y="203" width="1" height="56" fill="#ff0000"/>
<rect x="83" y="215" width="3" height="25" fill="#ff0000"/>
<rect x="84" y="216" width="1" height="23" fill="#ff4000"/>
<rect x="88" y="209" width="1" height="32" fill="#32cd32"/>
<rect x="87" y="214" width="3" height="19" fill="#26c826"/>
<rect x="88" y="214" width="1" height="19" fill="#32cd32"/>
<rect x="92" y="220" width="1" height="20" fill="#32cd32"/>
<rect x="91" y="231" width="3" height="7" fill="#26c826"/>
<rect x="92" y="231" width="1" height="7" fill="#32cd32"/>
<rect x="96" y="205" width="1" height="33" fill="#ff0000"/>
<rect x="95" y="214" width="3" height="24" fill="#ff0000"/>
<rect x="96" y="215" width="1" height="22" fill="#ff4000"/>
<rect x="100" y="190" width="1" height="44" fill="#32cd32"/>
<rect x="99" y="214" width="3" height="19" fill="#26c826"/>
<rect x="100" y="214" width="1" height="19" fill="#32cd32"/>
<rect x="104" y="228" width="1" height="39" fill="#32cd32"/>
<rect x="103" y="235" width="3" height="19" fill="#26c826"/>
<rect x="104" y="235" width="1" height="19" fill="#32cd32"/>
<rect x="108" y="248" width="1" height="49" fill="#32cd32"/>
<rect x="107" y="254" width="3" height="42" fill="#26c826"/>
<rect x="108" y="254" width="1" height="42" fill="#32cd32"/>
<rect x="112" y="271" width="1" height="32" fill="#ff0000"/>
<rect x="111" y="280" width="3" height="14" fill="#ff0000"/>
<rect x="112" y="281" width="1" height="12" fill="#ff4000"/>
<rect x="116" y="271" width="1" height="26" fill="#32cd32"/>
<rect x="115" y="280" width="3" height="12" fill="#26c826"/>
<rect x="116" y="280" width="1" height="12" fill="#32cd32"/>
<rect x="120" y="265" width="1" height="31" fill="#32cd32"/>
<rect x="119" y="289" width="3" height="2" fill="#26c826"/>
<rect x="120" y="289" width="1" height="2" fill="#32cd32"/>
<rect x="124" y="287" width="1" height="35" fill="#32cd32"/>
<rect x="123" y="290" width="3" height="27" fill="#26c826"/>
<rect x="124" y="290" width="1" height="27" fill="#32cd32"/>
<rect x="128" y="272" width="1" height="50" fill="#ff0000"/>
<rect x="127" y="272" width="3" height="43" fill="#ff0000"/>
<rect x="128" y="273" width="1" height="41" fill="#ff4000"/>
<rect x="132" y="246" width="1" height="34" fill="#ff0000"/>
<rect x="131" y="270" width="3" height="3" fill="#ff0000"/>
<rect x="132" y="271" width="1" height="1" fill="#ff4000"/>
<rect x="136" y="215" width="1" height="64" fill="#ff0000"/>
<rect x="135" y="232" width="3" height="39" fill="#ff0000"/>
<rect x="136" y="233" width="1" height="37" fill="#ff4000"/>
<rect x="140" y="220" width="1" height="40" fill="#ff0000"/>
<rect x="139" y="228" width="3" height="5" fill="#ff0000"/>
<rect x="140" y="229" width="1" height="3" fill="#ff4000"/>
<rect x="144" y="208" width="1" height="41" fill="#ff0000"/>
<rect x="143" y="226" width="3" height="23" fill="#ff0000"/>
<rect x="144" y="227" width="1" height="21" fill="#ff4000"/>
<rect x="148" y="211" width="1" height="33" fill="#32cd32"/>
<rect x="147" y="226" width="3" height="11" fill="#26c826"/>
<rect x="148" y="226" width="1" height="11" fill="#32cd32"/>
<rect x="152" y="225" width="1" height="38" fill="#32cd32"/>
<rect x="151" y="234" width="3" height="19" fill="#26c826"/>
<rect x="152" y="234" width="1" height="19" fill="#32cd32"/>
<rect x="156" y="172" width="1" height="84" fill="#ff0000"/>
<rect x="155" y="174" width="3" height="77" fill="#ff0000"/>
<rect x="156" y="175" width="1" height="75" fill="#ff4000"/>
<rect x="160" y="160" width="1" height="65" fill="#32cd32"/>
<rect x="159" y="174" width="3" height="21" fill="#26c826"/>
<rect x="160" y="174" width="1" height="21" fill="#32cd32"/>
<rect x="164" y="205" width="1" height="21" fill="#32cd32"/>
<rect x="163" y="214" width="3" height="11" fill="#26c826"/>
<rect x="164" y="214" width="1" height="11" fill="#32cd32"/>
<rect x="168" y="197" width="1" height="31" fill="#ff0000"/>
<rect x="167" y="211" width="3" height="14" fill="#ff0000"/>
<rect x="168" y="212" width="1" height="12" fill="#ff4000"/>
<rect x="172" y="197" width="1" height="40" fill="#ff0000"/>
<rect x="171" y="201" width="3" height="12" fill="#ff0000"/>
<rect x="172" y="202" width="1" height="10" fill="#ff4000"/>
<rect x="176" y="184" width="1" height="35" fill="#ff0000"/>
<rect x="175" y="189" width="3" height="14" fill="#ff0000"/>
<rect x="176" y="190" width="1" height="12" fill="#ff4000"/>
<rect x="180" y="130" width="1" height="75" fill="#ff0000"/>
<rect x="179" y="152" width="3" height="38" fill="#ff0000"/>
<rect x="180" y="153" width="1" height="36" fill="#ff4000"/>
<rect x="184" y="100" width="1" height="65" fill="#ff0000"/>
<rect x="183" y="102" width="3" height="59" fill="#ff0000"/>
<rect x="184" y="103" width="1" height="57" fill="#ff4000"/>
<rect x="188" y="100" width="1" height="57" fill="#32cd32"/>
<rect x="187" y="102" width="3" height="43" fill="#26c826"/>
<rect x="188" y="102" width="1" height="43" fill="#32cd32"/>
<rect x="192" y="130" width="1" height="55" fill="#32cd32"/>
<rect x="191" y="143" width="3" height="32" fill="#26c826"/>
<rect x="192" y="143" width="1" height="32" fill="#32cd32"/>
<rect x="196" y="165" width="1" height="44" fill="#32cd32"/>
<rect x="195" y="174" width="3" height="27" fill="#26c826"/>
<rect x="196" y="174" width="1" height="27" fill="#32cd32"/>
<rect x="200" y="151" width="1" height="59" fill="#ff0000"/>
<rect x="199" y="173" width="3" height="29" fill="#ff0000"/>
<rect x="200" y="174" width="1" height="27" fill="#ff4000"/>
<rect x="204" y="147" width="1" height="38" fill="#ff0000"/>
<rect x="203" y="175" width="3" height="3" fill="#ff0000"/>
<rect x="204" y="176" width="1" height="1" fill="#ff4000"/>
<rect x="208" y="163" width="1" height="21" fill="#ff0000"/>
<rect x="207" y="172" width="3" height="5" fill="#ff0000"/>
<rect x="208" y="173" width="1" height="3" fill="#ff4000"/>
<rect x="212" y="157" width="1" height="39" fill="#32cd32"/>
<rect x="211" y="172" width="3" height="20" fill="#26c826"/>
<rect x="212" y="172" width="1" height="20" fill="#32cd32"/>
<rect x="216" y="151" width="1" height="42" fill="#ff0000"/>
<rect x="215" y="160" width="3" height="32" fill="#ff0000"/>
<rect x="216" y="161" width="1" height="30" fill="#ff4000"/>
<rect x="220" y="139" width="1" height="30" fill="#32cd32"/>
<rect x="219" y="160" width="3" height="2" fill="#26c826"/>
<rect x="220" y="160" width="1" height="2" fill="#32cd32"/>
<rect x="224" y="148" width="1" height="23" fill="#32cd32"/>
<rect x="223" y="152" width="3" height="10" fill="#26c826"/>
<rect x="224" y="152" width="1" height="10" fill="#32cd32"/>
<rect x="228" y="137" width="1" height="33" fill="#ff0000"/>
<rect x="227" y="137" width="3" height="26" fill="#ff0000"/>
<rect x="228" y="138" width="1" height="24" fill="#ff4000"/>
<rect x="232" y="128" width="1" height="20" fill="#ff0000"/>
<rect x="231" y="128" width="3" height="11" fill="#ff0000"/>
<rect x="232" y="129" width="1" height="9" fill="#ff4000"/>
<rect x="236" y="93" width="1" height="42" fill="#ff0000"/>
<rect x="235" y="103" width="3" height="27" fill="#ff0000"/>
<rect x="236" y="104" width="1" height="25" fill="#ff4000"/>
<rect x="240" y="103" width="1" height="15" fill="#32cd32"/>
<rect x="239" y="103" width="3" height="10" fill="#26c826"/>
<rect x="240" y="103" width="1" height="10" fill="#32cd32"/>
<rect x="244" y="48" width="1" height="66" fill="#ff0000"/>
<rect x="243" y="59" width="3" height="53" fill="#ff0000"/>
<rect x="244" y="60" width="1" height="51" fill="#ff4000"/>
<rect x="248" y="48" width="1" height="25" fill="#32cd32"/>
<rect x="247" y="58" width="3" height="9" fill="#26c826"/>
<rect x="248" y="58" width="1" height="9" fill="#32cd32"/>
<rect x="252" y="56" width="1" height="35" fill="#32cd32"/>
<rect x="251" y="65" width="3" height="16" fill="#26c826"/>
<rect x="252" y="65" width="1" height="16" fill="#32cd32"/>
<rect x="256" y="42" width="1" height="45" fill="#ff0000"/>
<rect x="255" y="65" width="3" height="16" fill="#ff0000"/>
<rect x="256" y="66" width="1" height="14" fill="#ff4000"/>
<rect x="260" y="48" width="1" height="50" fill="#32cd32"/>
<rect x="259" y="66" width="3" height="24" fill="#26c826"/>
<rect x="260" y="66" width="1" height="24" fill="#32cd32"/>
<rect x="264" y="76" width="1" height="39" fill="#32cd32"/>
<rect x="263" y="89" width="3" height="26" fill="#26c826"/>
<rect x="264" y="89" width="1" height="26" fill="#32cd32"/>
<rect x="268" y="94" width="1" height="23" fill="#ff0000"/>
<rect x="267" y="96" width="3" height="16" fill="#ff0000"/>
<rect x="268" y="97" width="1" height="14" fill="#ff4000"/>
<rect x="272" y="80" width="1" height="19" fill="#ff0000"/>
<rect x="271" y="89" width="3" height="8" fill="#ff0000"/>
<rect x="272" y="90" width="1" height="6" fill="#ff4000"/>
<rect x="276" y="68" width="1" height="31" fill="#ff0000"/>
<rect x="275" y="84" width="3" height="7" fill="#ff0000"/>
<rect x="276" y="85" width="1" height="5" fill="#ff4000"/>
<rect x="280" y="74" width="1" height="31" fill="#32cd32"/>
<rect x="279" y="85" width="3" height="17" fill="#26c826"/>
<rect x="280" y="85" width="1" height="17" fill="#32cd32"/>
<rect x="284" y="85" width="1" height="28" fill="#32cd32"/>
<rect x="283" y="100" width="3" height="8" fill="#26c826"/>
<rect x="284" y="100" width="1" height="8" fill="#32cd32"/>
<rect x="288" y="104" width="1" height="31" fill="#32cd32"/>
<rect x="287" y="107" width="3" height="19" fill="#26c826"/>
<rect x="288" y="107" width="1" height="19" fill="#32cd32"/>
<rect x="292" y="107" width="1" height="34" fill="#32cd32"/>
<rect x="291" y="122" width="3" height="13" fill="#26c826"/>
<rect x="292" y="122" width="1" height="13" fill="#32cd32"/>
<rect x="296" y="117" width="1" height="26" fill="#ff0000"/>
<rect x="295" y="131" width="3" height="3" fill="#ff0000"/>
<rect x="296" y="132" width="1" height="1" fill="#ff4000"/>
<rect x="300" y="121" width="1" height="48" fill="#32cd32"/>
<rect x="299" y="131" width="3" height="30" fill="#26c826"/>
<rect x="300" y="131" width="1" height="30" fill="#32cd32"/>
<rect x="304" y="155" width="1" height="37" fill="#32cd32"/>
<rect x="303" y="160" width="3" height="12" fill="#26c826"/>
<rect x="304" y="160" width="1" height="12" fill="#32cd32"/>
<rect x="308" y="169" width="1" height="24" fill="#32cd32"/>
<rect x="307" y="170" width="3" height="16" fill="#26c826"/>
<rect x="308" y="170" width="1" height="16" fill="#32cd32"/>
<rect x="312" y="173" width="1" height="31" fill="#ff0000"/>
<rect x="311" y="179" width="3" height="7" fill="#ff0000"/>
<rect x="312" y="180" width="1" height="5" fill="#ff4000"/>
<rect x="316" y="175" width="1" height="20" fill="#32cd32"/>
<rect x="315" y="178" width="3" height="14" fill="#26c826"/>
<rect x="316" y="178" width="1" height="14" fill="#32cd32"/>
<rect x="320" y="186" width="1" height="31" fill="#32cd32"/>
<rect x="319" y="190" width="3" height="22" fill="#26c826"/>
<rect x="320" y="190" width="1" height="22" fill="#32cd32"/>
<rect x="324" y="192" width="1" height="21" fill="#ff0000"/>
<rect x="323" y="198" width="3" height="13" fill="#ff0000"/>
<rect x="324" y="199" width="1" height="11" fill="#ff4000"/>
<rect x="328" y="191" width="1" height="30" fill="#32cd32"/>
<rect x="327" y="197" width="3" height="15" fill="#26c826"/>
<rect x="328" y="197" width="1" height="15" fill="#32cd32"/>
<rect x="332" y="211" width="1" height="20" fill="#32cd32"/>
<rect x="331" y="211" width="3" height="17" fill="#26c826"/>
<rect x="332" y="211" width="1" height="17" fill="#32cd32"/>
<rect x="336" y="211" width="1" height="20" fill="#ff0000"/>
<rect x="335" y="212" width="3" height="16" fill="#ff0000"/>
<rect x="336" y="213" width="1" height="14" fill="#ff4000"/>
<rect x="340" y="197" width="1" height="24" fill="#32cd32"/>
<rect x="339" y="214" width="3" height="4" fill="#26c826"/>
<rect x="340" y="214" width="1" height="4" fill="#32cd32"/>
<rect x="344" y="186" width="1" height="33" fill="#ff0000"/>
<rect x="343" y="197" width="3" height="22" fill="#ff0000"/>
<rect x="344" y="198" width="1" height="20" fill="#ff4000"/>
<rect x="348" y="183" width="1" height="22" fill="#ff0000"/>
<rect x="347" y="194" width="3" height="5" fill="#ff0000"/>
<rect x="348" y="195" width="1" height="3" fill="#ff4000"/>
<rect x="352" y="192" width="1" height="37" fill="#32cd32"/>
<rect x="351" y="195" width="3" height="31" fill="#26c826"/>
<rect x="352" y="195" width="1" height="31" fill="#32cd32"/>
<rect x="356" y="221" width="1" height="78" fill="#32cd32"/>
<rect x="355" y="223" width="3" height="73" fill="#26c826"/>
<rect x="356" y="223" width="1" height="73" fill="#32cd32"/>
<rect x="360" y="278" width="1" height="39" fill="#ff0000"/>
<rect x="359" y="289" width="3" height="11" fill="#ff0000"/>
<rect x="360" y="290" width="1" height="9" fill="#ff4000"/>
<rect x="364" y="273" width="1" height="26" fill="#ff0000"/>
<rect x="363" y="278" width="3" height="17" fill="#ff0000"/>
<rect x="364" y="279" width="1" height="15" fill="#ff4000"/>
<rect x="368" y="229" width="1" height="56" fill="#ff0000"/>
<rect x="367" y="239" width="3" height="41" fill="#ff0000"/>
<rect x="368" y="240" width="1" height="39" fill="#ff4000"/>
<rect x="372" y="233" width="1" height="25" fill="#32cd32"/>
<rect x="371" y="239" width="3" height="11" fill="#26c826"/>
<rect x="372" y="239" width="1" height="11" fill="#32cd32"/>
<rect x="376" y="244" width="1" height="31" fill="#32cd32"/>
<rect x="375" y="248" width="3" height="16" fill="#26c826"/>
<rect x="376" y="248" width="1" height="16" fill="#32cd32"/>
<rect x="380" y="247" width="1" height="18" fill="#ff0000"/>
<rect x="379" y="260" width="3" height="3" fill="#ff0000"/>
<rect x="380" y="261" width="1" height="1" fill="#ff4000"/>
<rect x="384" y="257" width="1" height="39" fill="#32cd32"/>
<rect x="383" y="260" width="3" height="27" fill="#26c826"/>
<rect x="384" y="260" width="1" height="27" fill="#32cd32"/>
<rect x="388" y="260" width="1" height="29" fill="#ff0000"/>
<rect x="387" y="260" width="3" height="27" fill="#ff0000"/>
<rect x="388" y="261" width="1" height="25" fill="#ff4000"/>
<rect x="392" y="258" width="1" height="18" fill="#32cd32"/>
<rect x="391" y="260" width="3" height="14" fill="#26c826"/>
<rect x="392" y="260" width="1" height="14" fill="#32cd32"/>
<rect x="396" y="259" width="1" height="23" fill="#ff0000"/>
<rect x="395" y="267" width="3" height="7" fill="#ff0000"/>
<rect x="396" y="268" width="1" height="5" fill="#ff4000"/>
<rect x="400" y="260" width="1" height="50" fill="#32cd32"/>
<rect x="399" y="263" width="3" height="40" fill="#26c826"/>
<rect x="400" y="263" width="1" height="40" fill="#32cd32"/>
<rect x="404" y="298" width="1" height="37" fill="#32cd32"/>
<rect x="403" y="301" width="3" height="6" fill="#26c826"/>
<rect x="404" y="301" width="1" height="6" fill="#32cd32"/>
<rect x="408" y="305" width="1" height="53" fill="#32cd32"/>
<rect x="407" y="306" width="3" height="38" fill="#26c826"/>
<rect x="408" y="306" width="1" height="38" fill="#32cd32"/>
<rect x="412" y="332" width="1" height="38" fill="#32cd32"/>
<rect x="411" y="342" width="3" height="12" fill="#26c826"/>
<rect x="412" y="342" width="1" height="12" fill="#32cd32"/>
<rect x="416" y="349" width="1" height="35" fill="#32cd32"/>
<rect x="415" y="353" width="3" height="29" fill="#26c826"/>
<rect x="416" y="353" width="1" height="29" fill="#32cd32"/>
<rect x="420" y="359" width="1" height="35" fill="#32cd32"/>
<rect x="419" y="366" width="3" height="5" fill="#26c826"/>
<rect x="420" y="366" width="1" height="5" fill="#32cd32"/>
<rect x="424" y="342" width="1" height="40" fill="#ff0000"/>
<rect x="423" y="349" width="3" height="22" fill="#ff0000"/>
<rect x="424" y="350" width="1" height="20" fill="#ff4000"/>
<rect x="428" y="334" width="1" height="23" fill="#ff0000"/>
<rect x="427" y="347" width="3" height="4" fill="#ff0000"/>
<rect x="428" y="348" width="1" height="2" fill="#ff4000"/>
<rect x="432" y="321" width="1" height="32" fill="#ff0000"/>
<rect x="431" y="323" width="3" height="25" fill="#ff0000"/>
<rect x="432" y="324" width="1" height="23" fill="#ff4000"/>
<rect x="436" y="306" width="1" height="39" fill="#32cd32"/>
<rect x="435" y="323" width="3" height="14" fill="#26c826"/>
<rect x="436" y="323" width="1" height="14" fill="#32cd32"/>
<rect x="440" y="322" width="1" height="25" fill="#32cd32"/>
<rect x="439" y="333" width="3" height="8" fill="#26c826"/>
<rect x="440" y="333" width="1" height="8" fill="#32cd32"/>
<rect x="444" y="319" width="1" height="24" fill="#ff0000"/>
<rect x="443" y="320" width="3" height="21" fill="#ff0000"/>
<rect x="444" y="321" width="1" height="19" fill="#ff4000"/>
<rect x="448" y="320" width="1" height="28" fill="#32cd32"/>
<rect x="447" y="320" width="3" height="19" fill="#26c826"/>
<rect x="448" y="320" width="1" height="19" fill="#32cd32"/>
<rect x="452" y="330" width="1" height="24" fill="#32cd32"/>
<rect x="451" y="338" width="3" height="6" fill="#26c826"/>
<rect x="452" y="338" width="1" height="6" fill="#32cd32"/>
<rect x="456" y="321" width="1" height="32" fill="#ff0000"/>
<rect x="455" y="330" width="3" height="14" fill="#ff0000"/>
<rect x="456" y="331" width="1" height="12" fill="#ff4000"/>
<rect x="460" y="292" width="1" height="38" fill="#ff0000"/>
<rect x="459" y="310" width="3" height="20" fill="#ff0000"/>
<rect x="460" y="311" width="1" height="18" fill="#ff4000"/>
<rect x="464" y="305" width="1" height="16" fill="#32cd32"/>
<rect x="463" y="310" width="3" height="2" fill="#26c826"/>
<rect x="464" y="310" width="1" height="2" fill="#32cd32"/>
<rect x="468" y="258" width="1" height="79" fill="#ff0000"/>
<rect x="467" y="264" width="3" height="48" fill="#ff0000"/>
<rect x="468" y="265" width="1" height="46" fill="#ff4000"/>
<rect x="472" y="225" width="1" height="65" fill="#ff0000"/>
<rect x="471" y="243" width="3" height="23" fill="#ff0000"/>
<rect x="472" y="244" width="1" height="21" fill="#ff4000"/>
<rect x="476" y="227" width="1" height="35" fill="#ff0000"/>
<rect x="475" y="235" width="3" height="11" fill="#ff0000"/>
<rect x="476" y="236" width="1" height="9" fill="#ff4000"/>
<rect x="480" y="202" width="1" height="44" fill="#ff0000"/>
<rect x="479" y="221" width="3" height="20" fill="#ff0000"/>
<rect x="480" y="222" width="1" height="18" fill="#ff4000"/>
<rect x="484" y="193" width="1" height="36" fill="#ff0000"/>
<rect x="483" y="208" width="3" height="15" fill="#ff0000"/>
<rect x="484" y="209" width="1" height="13" fill="#ff4000"/>
<rect x="488" y="180" width="1" height="35" fill="#ff0000"/>
<rect x="487" y="204" width="3" height="5" fill="#ff0000"/>
<rect x="488" y="205" width="1" height="3" fill="#ff4000"/>
<rect x="492" y="193" width="1" height="32" fill="#32cd32"/>
<rect x="491" y="204" width="3" height="12" fill="#26c826"/>
<rect x="492" y="204" width="1" height="12" fill="#32cd32"/>
<rect x="496" y="214" width="1" height="32" fill="#32cd32"/>
<rect x="495" y="214" width="3" height="17" fill="#26c826"/>
<rect x="496" y="214" width="1" height="17" fill="#32cd32"/>
<rect x="500" y="219" width="1" height="18" fill="#ff0000"/>
<rect x="499" y="230" width="3" height="6" fill="#ff0000"/>
<rect x="500" y="231" width="1" height="4" fill="#ff4000"/>
<rect x="504" y="216" width="1" height="21" fill="#ff0000"/>
<rect x="503" y="224" width="3" height="8" fill="#ff0000"/>
<rect x="504" y="225" width="1" height="6" fill="#ff4000"/>
<rect x="508" y="219" width="1" height="17" fill="#ff0000"/>
<rect x="507" y="220" width="3" height="5" fill="#ff0000"/>
<rect x="508" y="221" width="1" height="3" fill="#ff4000"/>
<rect x="512" y="209" width="1" height="22" fill="#ff0000"/>
<rect x="511" y="211" width="3" height="10" fill="#ff0000"/>
<rect x="512" y="212" width="1" height="8" fill="#ff4000"/>
<rect x="516" y="186" width="1" height="34" fill="#32cd32"/>
<rect x="515" y="211" width="3" height="4" fill="#26c826"/>
<rect x="516" y="211" width="1" height="4" fill="#32cd32"/>
<rect x="520" y="209" width="1" height="26" fill="#32cd32"/>
<rect x="519" y="215" width="3" height="14" fill="#26c826"/>
<rect x="520" y="215" width="1" height="14" fill="#32cd32"/>
<rect x="524" y="193" width="1" height="43" fill="#ff0000"/>
<rect x="523" y="205" width="3" height="23" fill="#ff0000"/>
<rect x="524" y="206" width="1" height="21" fill="#ff4000"/>
<rect x="528" y="197" width="1" height="26" fill="#32cd32"/>
<rect x="527" y="205" width="3" height="7" fill="#26c826"/>
<rect x="528" y="205" width="1" height="7" fill="#32cd32"/>
<rect x="532" y="172" width="1" height="41" fill="#ff0000"/>
<rect x="531" y="187" width="3" height="26" fill="#ff0000"/>
<rect x="532" y="188" width="1" height="24" fill="#ff4000"/>
<rect x="536" y="172" width="1" height="28" fill="#32cd32"/>
<rect x="535" y="186" width="3" height="14" fill="#26c826"/>
<rect x="536" y="186" width="1" height="14" fill="#32cd32"/>
<rect x="540" y="198" width="1" height="15" fill="#32cd32"/>
<rect x="539" y="204" width="3" height="6" fill="#26c826"/>
<rect x="540" y="204" width="1" height="6" fill="#32cd32"/>
<rect x="544" y="199" width="1" height="21" fill="#ff0000"/>
<rect x="543" y="201" width="3" height="10" fill="#ff0000"/>
<rect x="544" y="202" width="1" height="8" fill="#ff4000"/>
<rect x="548" y="196" width="1" height="51" fill="#32cd32"/>
<rect x="547" y="201" width="3" height="29" fill="#26c826"/>
<rect x="548" y="201" width="1" height="29" fill="#32cd32"/>
<rect x="552" y="216" width="1" height="23" fill="#ff0000"/>
<rect x="551" y="226" width="3" height="4" fill="#ff0000"/>
<rect x="552" y="227" width="1" height="2" fill="#ff4000"/>
<rect x="556" y="198" width="1" height="32" fill="#ff0000"/>
<rect x="555" y="211" width="3" height="17" fill="#ff0000"/>
<rect x="556" y="212" width="1" height="15" fill="#ff4000"/>
<rect x="560" y="175" width="1" height="35" fill="#ff0000"/>
<rect x="559" y="180" width="3" height="29" fill="#ff0000"/>
<rect x="560" y="181" width="1" height="27" fill="#ff4000"/>
<rect x="564" y="180" width="1" height="22" fill="#32cd32"/>
<rect x="563" y="180" width="3" height="17" fill="#26c826"/>
<rect x="564" y="180" width="1" height="17" fill="#32cd32"/>
<rect x="568" y="192" width="1" height="42" fill="#32cd32"/>
<rect x="567" y="194" width="3" height="31" fill="#26c826"/>
<rect x="568" y="194" width="1" height="31" fill="#32cd32"/>
<rect x="572" y="205" width="1" height="23" fill="#ff0000"/>
<rect x="571" y="210" width="3" height="15" fill="#ff0000"/>
<rect x="572" y="211" width="1" height="13" fill="#ff4000"/>
<rect x="576" y="192" width="1" height="27" fill="#ff0000"/>
<rect x="575" y="208" width="3" height="2" fill="#ff0000"/>
<rect x="580" y="180" width="1" height="29" fill="#ff0000"/>
<rect x="579" y="200" width="3" height="9" fill="#ff0000"/>
<rect x="580" y="201" width="1" height="7" fill="#ff4000"/>
<rect x="584" y="130" width="1" height="73" fill="#ff0000"/>
<rect x="583" y="139" width="3" height="62" fill="#ff0000"/>
<rect x="584" y="140" width="1" height="60" fill="#ff4000"/>
<rect x="588" y="139" width="1" height="59" fill="#32cd32"/>
<rect x="587" y="139" width="3" height="53" fill="#26c826"/>
<rect x="588" y="139" width="1" height="53" fill="#32cd32"/>
<rect x="592" y="182" width="1" height="57" fill="#32cd32"/>
<rect x="591" y="190" width="3" height="44" fill="#26c826"/>
<rect x="592" y="190" width="1" height="44" fill="#32cd32"/>
<rect x="596" y="212" width="1" height="35" fill="#ff0000"/>
<rect x="595" y="224" width="3" height="10" fill="#ff0000"/>
<rect x="596" y="225" width="1" height="8" fill="#ff4000"/>
<rect x="600" y="214" width="1" height="20" fill="#32cd32"/>
<rect x="599" y="223" width="3" height="4" fill="#26c826"/>
<rect x="600" y="223" width="1" height="4" fill="#32cd32"/>
<rect x="604" y="218" width="1" height="15" fill="#ff0000"/>
<rect x="603" y="224" width="3" height="4" fill="#ff0000"/>
<rect x="604" y="225" width="1" height="2" fill="#ff4000"/>
<rect x="608" y="221" width="1" height="21" fill="#32cd32"/>
<rect x="607" y="224" width="3" height="6" fill="#26c826"/>
<rect x="608" y="224" width="1" height="6" fill="#32cd32"/>
<rect x="612" y="224" width="1" height="17" fill="#32cd32"/>
<rect x="611" y="229" width="3" height="3" fill="#26c826"/>
<rect x="612" y="229" width="1" height="3" fill="#32cd32"/>
<rect x="616" y="196" width="1" height="37" fill="#ff0000"/>
<rect x="615" y="204" width="3" height="29" fill="#ff0000"/>
<rect x="616" y="205" width="1" height="27" fill="#ff4000"/>
<rect x="620" y="190" width="1" height="21" fill="#ff0000"/>
<rect x="619" y="195" width="3" height="6" fill="#ff0000"/>
<rect x="620" y="196" width="1" height="4" fill="#ff4000"/>
<rect x="624" y="189" width="1" height="15" fill="#ff0000"/>
<rect x="623" y="192" width="3" height="6" fill="#ff0000"/>
<rect x="624" y="193" width="1" height="4" fill="#ff4000"/>
<rect x="628" y="183" width="1" height="31" fill="#32cd32"/>
<rect x="627" y="192" width="3" height="17" fill="#26c826"/>
<rect x="628" y="192" width="1" height="17" fill="#32cd32"/>
<rect x="632" y="199" width="1" height="14" fill="#ff0000"/>
<rect x="631" y="206" width="3" height="3" fill="#ff0000"/>
<rect x="632" y="207" width="1" height="1" fill="#ff4000"/>
<rect x="636" y="194" width="1" height="16" fill="#32cd32"/>
<rect x="635" y="204" width="3" height="6" fill="#26c826"/>
<rect x="636" y="204" width="1" height="6" fill="#32cd32"/>
<rect x="640" y="200" width="1" height="14" fill="#32cd32"/>
<rect x="639" y="202" width="3" height="8" fill="#26c826"/>
<rect x="640" y="202" width="1" height="8" fill="#32cd32"/>
<rect x="644" y="177" width="1" height="34" fill="#ff0000"/>
<rect x="643" y="184" width="3" height="25" fill="#ff0000"/>
<rect x="644" y="185" width="1" height="23" fill="#ff4000"/>
<rect x="648" y="182" width="1" height="21" fill="#32cd32"/>
<rect x="647" y="184" width="3" height="11" fill="#26c826"/>
<rect x="648" y="184" width="1" height="11" fill="#32cd32"/>
<rect x="652" y="166" width="1" height="29" fill="#ff0000"/>
<rect x="651" y="174" width="3" height="21" fill="#ff0000"/>
<rect x="652" y="175" width="1" height="19" fill="#ff4000"/>
<rect x="656" y="157" width="1" height="23" fill="#32cd32"/>
<rect x="655" y="174" width="3" height="3" fill="#26c826"/>
<rect x="656" y="174" width="1" height="3" fill="#32cd32"/>
<rect x="660" y="171" width="1" height="41" fill="#32cd32"/>
<rect x="659" y="172" width="3" height="34" fill="#26c826"/>
<rect x="660" y="172" width="1" height="34" fill="#32cd32"/>
<rect x="664" y="195" width="1" height="31" fill="#32cd32"/>
<rect x="663" y="204" width="3" height="14" fill="#26c826"/>
<rect x="664" y="204" width="1" height="14" fill="#32cd32"/>
<rect x="668" y="205" width="1" height="17" fill="#ff0000"/>
<rect x="667" y="216" width="3" height="3" fill="#ff0000"/>
<rect x="668" y="217" width="1" height="1" fill="#ff4000"/>
<rect x="672" y="195" width="1" height="23" fill="#ff0000"/>
<rect x="671" y="199" width="3" height="19" fill="#ff0000"/>
<rect x="672" y="200" width="1" height="17" fill="#ff4000"/>
<rect x="676" y="194" width="1" height="40" fill="#32cd32"/>
<rect x="675" y="200" width="3" height="30" fill="#26c826"/>
<rect x="676" y="200" width="1" height="30" fill="#32cd32"/>
<rect x="680" y="219" width="1" height="11" fill="#ff0000"/>
<rect x="679" y="223" width="3" height="5" fill="#ff0000"/>
<rect x="680" y="224" width="1" height="3" fill="#ff4000"/>
<rect x="684" y="214" width="1" height="39" fill="#32cd32"/>
<rect x="683" y="223" width="3" height="20" fill="#26c826"/>
<rect x="684" y="223" width="1" height="20" fill="#32cd32"/>
<rect x="688" y="227" width="1" height="26" fill="#32cd32"/>
<rect x="687" y="241" width="3" height="4" fill="#26c826"/>
<rect x="688" y="241" width="1" height="4" fill="#32cd32"/>
<rect x="692" y="233" width="1" height="19" fill="#32cd32"/>
<rect x="691" y="244" width="3" height="5" fill="#26c826"/>
<rect x="692" y="244" width="1" height="5" fill="#32cd32"/>
<rect x="696" y="237" width="1" height="50" fill="#32cd32"/>
<rect x="695" y="248" width="3" height="18" fill="#26c826"/>
<rect x="696" y="248" width="1" height="18" fill="#32cd32"/>
<rect x="700" y="239" width="1" height="27" fill="#ff0000"/>
<rect x="699" y="248" width="3" height="18" fill="#ff0000"/>
<rect x="700" y="249" width="1" height="16" fill="#ff4000"/>
<rect x="704" y="225" width="1" height="27" fill="#ff0000"/>
<rect x="703" y="230" width="3" height="19" fill="#ff0000"/>
<rect x="704" y="231" width="1" height="17" fill="#ff4000"/>
<rect x="708" y="227" width="1" height="17" fill="#32cd32"/>
<rect x="707" y="229" width="3" height="7" fill="#26c826"/>
<rect x="708" y="229" width="1" height="7" fill="#32cd32"/>
<rect x="712" y="228" width="1" height="26" fill="#32cd32"/>
<rect x="711" y="232" width="3" height="13" fill="#26c826"/>
<rect x="712" y="232" width="1" height="13" fill="#32cd32"/>
<rect x="716" y="239" width="1" height="45" fill="#32cd32"/>
<rect x="715" y="244" width="3" height="17" fill="#26c826"/>
<rect x="716" y="244" width="1" height="17" fill="#32cd32"/>
<rect x="720" y="241" width="1" height="21" fill="#ff0000"/>
<rect x="719" y="258" width="3" height="3" fill="#ff0000"/>
<rect x="720" y="259" width="1" height="1" fill="#ff4000"/>
<rect x="724" y="251" width="1" height="27" fill="#32cd32"/>
<rect x="723" y="257" width="3" height="9" fill="#26c826"/>
<rect x="724" y="257" width="1" height="9" fill="#32cd32"/>
<rect x="728" y="256" width="1" height="31" fill="#32cd32"/>
<rect x="727" y="265" width="3" height="15" fill="#26c826"/>
<rect x="728" y="265" width="1" height="15" fill="#32cd32"/>
<rect x="732" y="239" width="1" height="42" fill="#ff0000"/>
<rect x="731" y="242" width="3" height="38" fill="#ff0000"/>
<rect x="732" y="243" width="1" height="36" fill="#ff4000"/>
<rect x="736" y="216" width="1" height="39" fill="#ff0000"/>
<rect x="735" y="217" width="3" height="27" fill="#ff0000"/>
<rect x="736" y="218" width="1" height="25" fill="#ff4000"/>
<rect x="740" y="190" width="1" height="27" fill="#ff0000"/>
<rect x="739" y="200" width="3" height="13" fill="#ff0000"/>
<rect x="740" y="201" width="1" height="11" fill="#ff4000"/>
<rect x="744" y="191" width="1" height="25" fill="#ff0000"/>
<rect x="743" y="195" width="3" height="6" fill="#ff0000"/>
<rect x="744" y="196" width="1" height="4" fill="#ff4000"/>
<rect x="748" y="191" width="1" height="51" fill="#32cd32"/>
<rect x="747" y="195" width="3" height="22" fill="#26c826"/>
<rect x="748" y="195" width="1" height="22" fill="#32cd32"/>
<rect x="752" y="211" width="1" height="33" fill="#32cd32"/>
<rect x="751" y="214" width="3" height="15" fill="#26c826"/>
<rect x="752" y="214" width="1" height="15" fill="#32cd32"/>
<rect x="756" y="214" width="1" height="23" fill="#ff0000"/>
<rect x="755" y="225" width="3" height="4" fill="#ff0000"/>
<rect x="756" y="226" width="1" height="2" fill="#ff4000"/>
<rect x="760" y="218" width="1" height="25" fill="#32cd32"/>
<rect x="759" y="230" width="3" height="3" fill="#26c826"/>
<rect x="760" y="230" width="1" height="3" fill="#32cd32"/>
<rect x="764" y="216" width="1" height="28" fill="#ff0000"/>
<rect x="763" y="216" width="3" height="18" fill="#ff0000"/>
<rect x="764" y="217" width="1" height="16" fill="#ff4000"/>
<rect x="768" y="202" width="1" height="23" fill="#ff0000"/>
<rect x="767" y="204" width="3" height="13" fill="#ff0000"/>
<rect x="768" y="205" width="1" height="11" fill="#ff4000"/>
<rect x="772" y="203" width="1" height="51" fill="#32cd32"/>
<rect x="771" y="204" width="3" height="45" fill="#26c826"/>
<rect x="772" y="204" width="1" height="45" fill="#32cd32"/>
<rect x="776" y="229" width="1" height="52" fill="#32cd32"/>
<rect x="775" y="248" width="3" height="28" fill="#26c826"/>
<rect x="776" y="248" width="1" height="28" fill="#32cd32"/>
<rect x="780" y="233" width="1" height="29" fill="#ff0000"/>
<rect x="779" y="248" width="3" height="11" fill="#ff0000"/>
<rect x="780" y="249" width="1" height="9" fill="#ff4000"/>
<rect x="784" y="232" width="1" height="28" fill="#32cd32"/>
<rect x="783" y="248" width="3" height="2" fill="#26c826"/>
<rect x="784" y="248" width="1" height="2" fill="#32cd32"/>
<rect x="788" y="216" width="1" height="37" fill="#ff0000"/>
<rect x="787" y="239" width="3" height="11" fill="#ff0000"/>
<rect x="788" y="240" width="1" height="9" fill="#ff4000"/>
<rect x="792" y="237" width="1" height="14" fill="#32cd32"/>
<rect x="791" y="238" width="3" height="10" fill="#26c826"/>
<rect x="792" y="238" width="1" height="10" fill="#32cd32"/>
<rect x="796" y="238" width="1" height="23" fill="#32cd32"/>
<rect x="795" y="246" width="3" height="11" fill="#26c826"/>
<rect x="796" y="246" width="1" height="11" fill="#32cd32"/>
<rect x="800" y="232" width="1" height="36" fill="#ff0000"/>
<rect x="799" y="233" width="3" height="22" fill="#ff0000"/>
<rect x="800" y="234" width="1" height="20" fill="#ff4000"/>
<rect x="804" y="225" width="1" height="24" fill="#32cd32"/>
<rect x="803" y="234" width="3" height="6" fill="#26c826"/>
<rect x="804" y="234" width="1" height="6" fill="#32cd32"/>
<rect x="808" y="238" width="1" height="48" fill="#32cd32"/>
<rect x="807" y="238" width="3" height="43" fill="#26c826"/>
<rect x="808" y="238" width="1" height="43" fill="#32cd32"/>
<rect x="812" y="262" width="1" height="24" fill="#ff0000"/>
<rect x="811" y="268" width="3" height="12" fill="#ff0000"/>
<rect x="812" y="269" width="1" height="10" fill="#ff4000"/>
<rect x="816" y="265" width="1" height="24" fill="#32cd32"/>
<rect x="815" y="268" width="3" height="3" fill="#26c826"/>
<rect x="816" y="268" width="1" height="3" fill="#32cd32"/>
<rect x="820" y="263" width="1" height="22" fill="#32cd32"/>
<rect x="819" y="273" width="3" height="7" fill="#26c826"/>
<rect x="820" y="273" width="1" height="7" fill="#32cd32"/>
<rect x="824" y="278" width="1" height="91" fill="#32cd32"/>
<rect x="823" y="279" width="3" height="80" fill="#26c826"/>
<rect x="824" y="279" width="1" height="80" fill="#32cd32"/>
<rect x="828" y="328" width="1" height="35" fill="#ff0000"/>
<rect x="827" y="332" width="3" height="26" fill="#ff0000"/>
<rect x="828" y="333" width="1" height="24" fill="#ff4000"/>
<rect x="832" y="321" width="1" height="27" fill="#ff0000"/>
<rect x="831" y="330" width="3" height="2" fill="#ff0000"/>
<rect x="836" y="324" width="1" height="33" fill="#32cd32"/>
<rect x="835" y="330" width="3" height="16" fill="#26c826"/>
<rect x="836" y="330" width="1" height="16" fill="#32cd32"/>
<rect x="840" y="338" width="1" height="22" fill="#32cd32"/>
<rect x="839" y="347" width="3" height="5" fill="#26c826"/>
<rect x="840" y="347" width="1" height="5" fill="#32cd32"/>
<rect x="844" y="343" width="1" height="16" fill="#32cd32"/>
<rect x="843" y="350" width="3" height="3" fill="#26c826"/>
<rect x="844" y="350" width="1" height="3" fill="#32cd32"/>
<rect x="848" y="326" width="1" height="32" fill="#ff0000"/>
<rect x="847" y="331" width="3" height="22" fill="#ff0000"/>
<rect x="848" y="332" width="1" height="20" fill="#ff4000"/>
<rect x="852" y="315" width="1" height="27" fill="#32cd32"/>
<rect x="851" y="329" width="3" height="11" fill="#26c826"/>
<rect x="852" y="329" width="1" height="11" fill="#32cd32"/>
<rect x="856" y="306" width="1" height="42" fill="#ff0000"/>
<rect x="855" y="310" width="3" height="28" fill="#ff0000"/>
<rect x="856" y="311" width="1" height="26" fill="#ff4000"/>
<rect x="860" y="308" width="1" height="26" fill="#32cd32"/>
<rect x="859" y="311" width="3" height="18" fill="#26c826"/>
<rect x="860" y="311" width="1" height="18" fill="#32cd32"/>
<rect x="864" y="315" width="1" height="20" fill="#ff0000"/>
<rect x="863" y="320" width="3" height="9" fill="#ff0000"/>
<rect x="864" y="321" width="1" height="7" fill="#ff4000"/>
<rect x="868" y="311" width="1" height="25" fill="#32cd32"/>
<rect x="867" y="318" width="3" height="16" fill="#26c826"/>
<rect x="868" y="318" width="1" height="16" fill="#32cd32"/>
<rect x="872" y="318" width="1" height="19" fill="#ff0000"/>
<rect x="871" y="328" width="3" height="6" fill="#ff0000"/>
<rect x="872" y="329" width="1" height="4" fill="#ff4000"/>
<rect x="876" y="310" width="1" height="22" fill="#ff0000"/>
<rect x="875" y="324" width="3" height="6" fill="#ff0000"/>
<rect x="876" y="325" width="1" height="4" fill="#ff4000"/>
<rect x="880" y="323" width="1" height="23" fill="#32cd32"/>
<rect x="879" y="326" width="3" height="13" fill="#26c826"/>
<rect x="880" y="326" width="1" height="13" fill="#32cd32"/>
<rect x="884" y="329" width="1" height="16" fill="#32cd32"/>
<rect x="883" y="338" width="3" height="4" fill="#26c826"/>
<rect x="884" y="338" width="1" height="4" fill="#32cd32"/>
<rect x="888" y="318" width="1" height="26" fill="#ff0000"/>
<rect x="887" y="322" width="3" height="18" fill="#ff0000"/>
<rect x="888" y="323" width="1" height="16" fill="#ff4000"/>
<rect x="892" y="310" width="1" height="36" fill="#32cd32"/>
<rect x="891" y="322" width="3" height="11" fill="#26c826"/>
<rect x="892" y="322" width="1" height="11" fill="#32cd32"/>
<rect x="896" y="331" width="1" height="34" fill="#32cd32"/>
<rect x="895" y="332" width="3" height="16" fill="#26c826"/>
<rect x="896" y="332" width="1" height="16" fill="#32cd32"/>
<rect x="900" y="344" width="1" height="19" fill="#ff0000"/>
<rect x="899" y="348" width="3" height="7" fill="#ff0000"/>
<rect x="900" y="349" width="1" height="5" fill="#ff4000"/>
<rect x="904" y="326" width="1" height="54" fill="#ff0000"/>
<rect x="903" y="335" width="3" height="14" fill="#ff0000"/>
<rect x="904" y="336" width="1" height="12" fill="#ff4000"/>
<rect x="908" y="331" width="1" height="33" fill="#32cd32"/>
<rect x="907" y="334" width="3" height="25" fill="#26c826"/>
<rect x="908" y="334" width="1" height="25" fill="#32cd32"/>
<rect x="912" y="341" width="1" height="20" fill="#ff0000"/>
<rect x="911" y="352" width="3" height="6" fill="#ff0000"/>
<rect x="912" y="353" width="1" height="4" fill="#ff4000"/>
<rect x="916" y="329" width="1" height="24" fill="#ff0000"/>
<rect x="915" y="336" width="3" height="17" fill="#ff0000"/>
<rect x="916" y="337" width="1" height="15" fill="#ff4000"/>
<rect x="920" y="329" width="1" height="28" fill="#32cd32"/>
<rect x="919" y="332" width="3" height="8" fill="#26c826"/>
<rect x="920" y="332" width="1" height="8" fill="#32cd32"/>
<rect x="924" y="335" width="1" height="5" fill="#32cd32"/>
<rect x="923" y="337" width="3" height="2" fill="#26c826"/>
<rect x="924" y="337" width="1" height="2" fill="#32cd32"/></g>
<rect x="1167" y="35" width="2" height="1" fill="#000"/>
<text x="1171" y="39" class="ax">6.59120</text>
<rect x="1167" y="68" width="2" height="1" fill="#000"/>
<text x="1171" y="72" class="ax">6.56910</text>
<rect x="1167" y="101" width="2" height="1" fill="#000"/>
<text x="1171" y="105" class="ax">6.54700</text>
<rect x="1167" y="134" width="2" height="1" fill="#000"/>
<text x="1171" y="138" class="ax">6.52490</text>
<rect x="1167" y="167" width="2" height="1" fill="#000"/>
<text x="1171" y="171" class="ax">6.50280</text>
<rect x="1167" y="200" width="2" height="1" fill="#000"/>
<text x="1171" y="204" class="ax">6.48005</text>
<rect x="1167" y="233" width="2" height="1" fill="#000"/>
<text x="1171" y="237" class="ax">6.45795</text>
<rect x="1167" y="266" width="2" height="1" fill="#000"/>
<text x="1171" y="270" class="ax">6.43585</text>
<rect x="1167" y="299" width="2" height="1" fill="#000"/>
<text x="1171" y="303" class="ax">6.41375</text>
<rect x="1167" y="332" width="2" height="1" fill="#000"/>
<text x="1171" y="336" class="ax">6.39165</text>
<rect x="1167" y="365" width="2" height="1" fill="#000"/>
<text x="1171" y="369" class="ax">6.36955</text>
<rect x="1167" y="398" width="2" height="1" fill="#000"/>
<text x="1171" y="402" class="ax">6.34745</text>
<rect x="3.5" y="23.5" width="1163" height="378" fill="none" stroke="#000"/>
<rect x="3.5" y="403.5" width="1163" height="69" fill="none" stroke="#000"/>
<rect x="3.5" y="474.5" width="1163" height="72" fill="none" stroke="#000"/>
<rect x="1166" y="138" width="1" height="2" fill="#ff0000"/>
<rect x="3" y="136" width="6" height="6" fill="#ff0000"/>
<rect x="5" y="138" width="2" height="2" fill="#fff"/>
<rect x="1160" y="136" width="6" height="6" fill="#ff0000"/>
<rect x="1162" y="138" width="2" height="2" fill="#fff"/>
<rect x="1168" y="133" width="38" height="11" fill="#ff0000"/>
<text x="1171" y="142" class="ax axw">6.52109</text>
<rect x="1166" y="214" width="1" height="2" fill="#ff0000"/>
<rect x="3" y="212" width="6" height="6" fill="#ff0000"/>
<rect x="5" y="214" width="2" height="2" fill="#fff"/>
<rect x="1160" y="212" width="6" height="6" fill="#ff0000"/>
<rect x="1162" y="214" width="2" height="2" fill="#fff"/>
<rect x="1168" y="209" width="38" height="11" fill="#ff0000"/>
<text x="1171" y="218" class="ax axw">6.47015</text>
<rect x="1166" y="283" width="1" height="2" fill="#00ff00"/>
<rect x="3" y="281" width="6" height="6" fill="#00ff00"/>
<rect x="5" y="283" width="2" height="2" fill="#fff"/>
<rect x="1160" y="281" width="6" height="6" fill="#00ff00"/>
<rect x="1162" y="283" width="2" height="2" fill="#fff"/>
<rect x="1168" y="278" width="38" height="11" fill="#00ff00"/>
<text x="1171" y="287" class="ax axw">6.42401</text>
<rect x="1166" y="363" width="1" height="2" fill="#0000ff"/>
<rect x="3" y="361" width="6" height="6" fill="#0000ff"/>
<rect x="5" y="363" width="2" height="2" fill="#fff"/>
<rect x="1160" y="361" width="6" height="6" fill="#0000ff"/>
<rect x="1162" y="363" width="2" height="2" fill="#fff"/>
<rect x="1168" y="358" width="38" height="11" fill="#0000ff"/>
<text x="1171" y="367" class="ax axw">6.37007</text>
<rect x="1168" y="333" width="38" height="11" fill="#000"/>
<text x="1171" y="342" class="ax axw">6.38747</text>
<g><rect x="3" y="435" width="3" height="26" fill="#c0c0c0"/>
<rect x="7" y="435" width="3" height="31" fill="#c0c0c0"/>
<rect x="11" y="435" width="3" height="33" fill="#c0c0c0"/>
<rect x="15" y="435" width="3" height="33" fill="#c0c0c0"/>
<rect x="19" y="435" width="3" height="32" fill="#c0c0c0"/>
<rect x="23" y="435" width="3" height="31" fill="#c0c0c0"/>
<rect x="27" y="435" width="3" height="32" fill="#c0c0c0"/>
<rect x="31" y="435" width="3" height="31" fill="#c0c0c0"/>
<rect x="35" y="435" width="3" height="30" fill="#c0c0c0"/>
<rect x="39" y="435" width="3" height="26" fill="#c0c0c0"/>
<rect x="43" y="435" width="3" height="23" fill="#c0c0c0"/>
<rect x="47" y="435" width="3" height="21" fill="#c0c0c0"/>
<rect x="51" y="435" width="3" height="21" fill="#c0c0c0"/>
<rect x="55" y="435" width="3" height="20" fill="#c0c0c0"/>
<rect x="59" y="435" width="3" height="16" fill="#c0c0c0"/>
<rect x="63" y="435" width="3" height="14" fill="#c0c0c0"/>
<rect x="67" y="435" width="3" height="14" fill="#c0c0c0"/>
<rect x="71" y="435" width="3" height="11" fill="#c0c0c0"/>
<rect x="75" y="435" width="3" height="11" fill="#c0c0c0"/>
<rect x="79" y="435" width="3" height="13" fill="#c0c0c0"/>
<rect x="83" y="435" width="3" height="12" fill="#c0c0c0"/>
<rect x="87" y="435" width="3" height="13" fill="#c0c0c0"/>
<rect x="91" y="435" width="3" height="13" fill="#c0c0c0"/>
<rect x="95" y="435" width="3" height="12" fill="#c0c0c0"/>
<rect x="99" y="435" width="3" height="12" fill="#c0c0c0"/>
<rect x="103" y="435" width="3" height="13" fill="#c0c0c0"/>
<rect x="107" y="435" width="3" height="17" fill="#c0c0c0"/>
<rect x="111" y="435" width="3" height="18" fill="#c0c0c0"/>
<rect x="115" y="435" width="3" height="20" fill="#c0c0c0"/>
<rect x="119" y="435" width="3" height="21" fill="#c0c0c0"/>
<rect x="123" y="435" width="3" height="23" fill="#c0c0c0"/>
<rect x="127" y="435" width="3" height="22" fill="#c0c0c0"/>
<rect x="131" y="435" width="3" height="21" fill="#c0c0c0"/>
<rect x="135" y="435" width="3" height="17" fill="#c0c0c0"/>
<rect x="139" y="435" width="3" height="14" fill="#c0c0c0"/>
<rect x="143" y="435" width="3" height="11" fill="#c0c0c0"/>
<rect x="147" y="435" width="3" height="9" fill="#c0c0c0"/>
<rect x="151" y="435" width="3" height="8" fill="#c0c0c0"/>
<rect x="155" y="435" width="3" height="3" fill="#c0c0c0"/>
<rect x="159" y="435" width="3" height="1" fill="#c0c0c0"/>
<rect x="163" y="435" width="3" height="1" fill="#c0c0c0"/>
<rect x="167" y="434" width="3" height="1" fill="#c0c0c0"/>
<rect x="171" y="432" width="3" height="3" fill="#c0c0c0"/>
<rect x="175" y="430" width="3" height="5" fill="#c0c0c0"/>
<rect x="179" y="426" width="3" height="9" fill="#c0c0c0"/>
<rect x="183" y="421" width="3" height="14" fill="#c0c0c0"/>
<rect x="187" y="419" width="3" height="16" fill="#c0c0c0"/>
<rect x="191" y="419" width="3" height="16" fill="#c0c0c0"/>
<rect x="195" y="422" width="3" height="13" fill="#c0c0c0"/>
<rect x="199" y="422" width="3" height="13" fill="#c0c0c0"/>
<rect x="203" y="422" width="3" height="13" fill="#c0c0c0"/>
<rect x="207" y="423" width="3" height="12" fill="#c0c0c0"/>
<rect x="211" y="424" width="3" height="11" fill="#c0c0c0"/>
<rect x="215" y="424" width="3" height="11" fill="#c0c0c0"/>
<rect x="219" y="423" width="3" height="12" fill="#c0c0c0"/>
<rect x="223" y="423" width="3" height="12" fill="#c0c0c0"/>
<rect x="227" y="422" width="3" height="13" fill="#c0c0c0"/>
<rect x="231" y="420" width="3" height="15" fill="#c0c0c0"/>
<rect x="235" y="418" width="3" height="17" fill="#c0c0c0"/>
<rect x="239" y="417" width="3" height="18" fill="#c0c0c0"/>
<rect x="243" y="413" width="3" height="22" fill="#c0c0c0"/>
<rect x="247" y="410" width="3" height="25" fill="#c0c0c0"/>
<rect x="251" y="409" width="3" height="26" fill="#c0c0c0"/>
<rect x="255" y="408" width="3" height="27" fill="#c0c0c0"/>
<rect x="259" y="409" width="3" height="26" fill="#c0c0c0"/>
<rect x="263" y="411" width="3" height="24" fill="#c0c0c0"/>
<rect x="267" y="412" width="3" height="23" fill="#c0c0c0"/>
<rect x="271" y="413" width="3" height="22" fill="#c0c0c0"/>
<rect x="275" y="414" width="3" height="21" fill="#c0c0c0"/>
<rect x="279" y="415" width="3" height="20" fill="#c0c0c0"/>
<rect x="283" y="417" width="3" height="18" fill="#c0c0c0"/>
<rect x="287" y="420" width="3" height="15" fill="#c0c0c0"/>
<rect x="291" y="423" width="3" height="12" fill="#c0c0c0"/>
<rect x="295" y="425" width="3" height="10" fill="#c0c0c0"/>
<rect x="299" y="429" width="3" height="6" fill="#c0c0c0"/>
<rect x="303" y="432" width="3" height="3" fill="#c0c0c0"/>
<rect x="307" y="435" width="3" height="1" fill="#c0c0c0"/>
<rect x="311" y="435" width="3" height="4" fill="#c0c0c0"/>
<rect x="315" y="435" width="3" height="6" fill="#c0c0c0"/>
<rect x="319" y="435" width="3" height="10" fill="#c0c0c0"/>
<rect x="323" y="435" width="3" height="11" fill="#c0c0c0"/>
<rect x="327" y="435" width="3" height="13" fill="#c0c0c0"/>
<rect x="331" y="435" width="3" height="16" fill="#c0c0c0"/>
<rect x="335" y="435" width="3" height="16" fill="#c0c0c0"/>
<rect x="339" y="435" width="3" height="17" fill="#c0c0c0"/>
<rect x="343" y="435" width="3" height="16" fill="#c0c0c0"/>
<rect x="347" y="435" width="3" height="15" fill="#c0c0c0"/>
<rect x="351" y="435" width="3" height="16" fill="#c0c0c0"/>
<rect x="355" y="435" width="3" height="21" fill="#c0c0c0"/>
<rect x="359" y="435" width="3" height="24" fill="#c0c0c0"/>
<rect x="363" y="435" width="3" height="26" fill="#c0c0c0"/>
<rect x="367" y="435" width="3" height="24" fill="#c0c0c0"/>
<rect x="371" y="435" width="3" height="23" fill="#c0c0c0"/>
<rect x="375" y="435" width="3" height="23" fill="#c0c0c0"/>
<rect x="379" y="435" width="3" height="23" fill="#c0c0c0"/>
<rect x="383" y="435" width="3" height="24" fill="#c0c0c0"/>
<rect x="387" y="435" width="3" height="23" fill="#c0c0c0"/>
<rect x="391" y="435" width="3" height="22" fill="#c0c0c0"/>
<rect x="395" y="435" width="3" height="21" fill="#c0c0c0"/>
<rect x="399" y="435" width="3" height="23" fill="#c0c0c0"/>
<rect x="403" y="435" width="3" height="24" fill="#c0c0c0"/>
<rect x="407" y="435" width="3" height="26" fill="#c0c0c0"/>
<rect x="411" y="435" width="3" height="29" fill="#c0c0c0"/>
<rect x="415" y="435" width="3" height="32" fill="#c0c0c0"/>
<rect x="419" y="435" width="3" height="34" fill="#c0c0c0"/>
<rect x="423" y="435" width="3" height="33" fill="#c0c0c0"/>
<rect x="427" y="435" width="3" height="32" fill="#c0c0c0"/>
<rect x="431" y="435" width="3" height="30" fill="#c0c0c0"/>
<rect x="435" y="435" width="3" height="28" fill="#c0c0c0"/>
<rect x="439" y="435" width="3" height="27" fill="#c0c0c0"/>
<rect x="443" y="435" width="3" height="25" fill="#c0c0c0"/>
<rect x="447" y="435" width="3" height="23" fill="#c0c0c0"/>
<rect x="451" y="435" width="3" height="23" fill="#c0c0c0"/>
<rect x="455" y="435" width="3" height="21" fill="#c0c0c0"/>
<rect x="459" y="435" width="3" height="18" fill="#c0c0c0"/>
<rect x="463" y="435" width="3" height="16" fill="#c0c0c0"/>
<rect x="467" y="435" width="3" height="11" fill="#c0c0c0"/>
<rect x="471" y="435" width="3" height="5" fill="#c0c0c0"/>
<rect x="475" y="435" width="3" height="1" fill="#c0c0c0"/>
<rect x="479" y="431" width="3" height="4" fill="#c0c0c0"/>
<rect x="483" y="427" width="3" height="8" fill="#c0c0c0"/>
<rect x="487" y="423" width="3" height="12" fill="#c0c0c0"/>
<rect x="491" y="421" width="3" height="14" fill="#c0c0c0"/>
<rect x="495" y="421" width="3" height="14" fill="#c0c0c0"/>
<rect x="499" y="421" width="3" height="14" fill="#c0c0c0"/>
<rect x="503" y="420" width="3" height="15" fill="#c0c0c0"/>
<rect x="507" y="420" width="3" height="15" fill="#c0c0c0"/>
<rect x="511" y="419" width="3" height="16" fill="#c0c0c0"/>
<rect x="515" y="419" width="3" height="16" fill="#c0c0c0"/>
<rect x="519" y="420" width="3" height="15" fill="#c0c0c0"/>
<rect x="523" y="420" width="3" height="15" fill="#c0c0c0"/>
<rect x="527" y="420" width="3" height="15" fill="#c0c0c0"/>
<rect x="531" y="418" width="3" height="17" fill="#c0c0c0"/>
<rect x="535" y="418" width="3" height="17" fill="#c0c0c0"/>
<rect x="539" y="419" width="3" height="16" fill="#c0c0c0"/>
<rect x="543" y="420" width="3" height="15" fill="#c0c0c0"/>
<rect x="547" y="422" width="3" height="13" fill="#c0c0c0"/>
<rect x="551" y="423" width="3" height="12" fill="#c0c0c0"/>
<rect x="555" y="424" width="3" height="11" fill="#c0c0c0"/>
<rect x="559" y="422" width="3" height="13" fill="#c0c0c0"/>
<rect x="563" y="422" width="3" height="13" fill="#c0c0c0"/>
<rect x="567" y="424" width="3" height="11" fill="#c0c0c0"/>
<rect x="571" y="425" width="3" height="10" fill="#c0c0c0"/>
<rect x="575" y="426" width="3" height="9" fill="#c0c0c0"/>
<rect x="579" y="426" width="3" height="9" fill="#c0c0c0"/>
<rect x="583" y="422" width="3" height="13" fill="#c0c0c0"/>
<rect x="587" y="423" width="3" height="12" fill="#c0c0c0"/>
<rect x="591" y="426" width="3" height="9" fill="#c0c0c0"/>
<rect x="595" y="428" width="3" height="7" fill="#c0c0c0"/>
<rect x="599" y="430" width="3" height="5" fill="#c0c0c0"/>
<rect x="603" y="431" width="3" height="4" fill="#c0c0c0"/>
<rect x="607" y="432" width="3" height="3" fill="#c0c0c0"/>
<rect x="611" y="434" width="3" height="1" fill="#c0c0c0"/>
<rect x="615" y="433" width="3" height="2" fill="#c0c0c0"/>
<rect x="619" y="432" width="3" height="3" fill="#c0c0c0"/>
<rect x="623" y="431" width="3" height="4" fill="#c0c0c0"/>
<rect x="627" y="431" width="3" height="4" fill="#c0c0c0"/>
<rect x="631" y="431" width="3" height="4" fill="#c0c0c0"/>
<rect x="635" y="432" width="3" height="3" fill="#c0c0c0"/>
<rect x="639" y="432" width="3" height="3" fill="#c0c0c0"/>
<rect x="643" y="431" width="3" height="4" fill="#c0c0c0"/>
<rect x="647" y="430" width="3" height="5" fill="#c0c0c0"/>
<rect x="651" y="429" width="3" height="6" fill="#c0c0c0"/>
<rect x="655" y="428" width="3" height="7" fill="#c0c0c0"/>
<rect x="659" y="429" width="3" height="6" fill="#c0c0c0"/>
<rect x="663" y="431" width="3" height="4" fill="#c0c0c0"/>
<rect x="667" y="432" width="3" height="3" fill="#c0c0c0"/>
<rect x="671" y="432" width="3" height="3" fill="#c0c0c0"/>
<rect x="675" y="434" width="3" height="1" fill="#c0c0c0"/>
<rect x="679" y="435" width="3" height="1" fill="#c0c0c0"/>
<rect x="683" y="435" width="3" height="2" fill="#c0c0c0"/>
<rect x="687" y="435" width="3" height="4" fill="#c0c0c0"/>
<rect x="691" y="435" width="3" height="5" fill="#c0c0c0"/>
<rect x="695" y="435" width="3" height="8" fill="#c0c0c0"/>
<rect x="699" y="435" width="3" height="8" fill="#c0c0c0"/>
<rect x="703" y="435" width="3" height="7" fill="#c0c0c0"/>
<rect x="707" y="435" width="3" height="7" fill="#c0c0c0"/>
<rect x="711" y="435" width="3" height="7" fill="#c0c0c0"/>
<rect x="715" y="435" width="3" height="8" fill="#c0c0c0"/>
<rect x="719" y="435" width="3" height="9" fill="#c0c0c0"/>
<rect x="723" y="435" width="3" height="10" fill="#c0c0c0"/>
<rect x="727" y="435" width="3" height="11" fill="#c0c0c0"/>
<rect x="731" y="435" width="3" height="10" fill="#c0c0c0"/>
<rect x="735" y="435" width="3" height="7" fill="#c0c0c0"/>
<rect x="739" y="435" width="3" height="4" fill="#c0c0c0"/>
<rect x="743" y="435" width="3" height="1" fill="#c0c0c0"/>
<rect x="747" y="435" width="3" height="1" fill="#c0c0c0"/>
<rect x="751" y="435" width="3" height="1" fill="#c0c0c0"/>
<rect x="755" y="435" width="3" height="1" fill="#c0c0c0"/>
<rect x="759" y="435" width="3" height="1" fill="#c0c0c0"/>
<rect x="763" y="434" width="3" height="1" fill="#c0c0c0"/>
<rect x="767" y="433" width="3" height="2" fill="#c0c0c0"/>
<rect x="771" y="435" width="3" height="1" fill="#c0c0c0"/>
<rect x="775" y="435" width="3" height="3" fill="#c0c0c0"/>
<rect x="779" y="435" width="3" height="3" fill="#c0c0c0"/>
<rect x="783" y="435" width="3" height="4" fill="#c0c0c0"/>
<rect x="787" y="435" width="3" height="4" fill="#c0c0c0"/>
<rect x="791" y="435" width="3" height="4" fill="#c0c0c0"/>
<rect x="795" y="435" width="3" height="4" fill="#c0c0c0"/>
<rect x="799" y="435" width="3" height="4" fill="#c0c0c0"/>
<rect x="803" y="435" width="3" height="3" fill="#c0c0c0"/>
<rect x="807" y="435" width="3" height="5" fill="#c0c0c0"/>
<rect x="811" y="435" width="3" height="6" fill="#c0c0c0"/>
<rect x="815" y="435" width="3" height="7" fill="#c0c0c0"/>
<rect x="819" y="435" width="3" height="8" fill="#c0c0c0"/>
<rect x="823" y="435" width="3" height="14" fill="#c0c0c0"/>
<rect x="827" y="435" width="3" height="16" fill="#c0c0c0"/>
<rect x="831" y="435" width="3" height="18" fill="#c0c0c0"/>
<rect x="835" y="435" width="3" height="20" fill="#c0c0c0"/>
<rect x="839" y="435" width="3" height="22" fill="#c0c0c0"/>
<rect x="843" y="435" width="3" height="23" fill="#c0c0c0"/>
<rect x="847" y="435" width="3" height="23" fill="#c0c0c0"/>
<rect x="851" y="435" width="3" height="22" fill="#c0c0c0"/>
<rect x="855" y="435" width="3" height="20" fill="#c0c0c0"/>
<rect x="859" y="435" width="3" height="19" fill="#c0c0c0"/>
<rect x="863" y="435" width="3" height="18" fill="#c0c0c0"/>
<rect x="867" y="435" width="3" height="17" fill="#c0c0c0"/>
<rect x="871" y="435" width="3" height="17" fill="#c0c0c0"/>
<rect x="875" y="435" width="3" height="15" fill="#c0c0c0"/>
<rect x="879" y="435" width="3" height="15" fill="#c0c0c0"/>
<rect x="883" y="435" width="3" height="15" fill="#c0c0c0"/>
<rect x="887" y="435" width="3" height="14" fill="#c0c0c0"/>
<rect x="891" y="435" width="3" height="13" fill="#c0c0c0"/>
<rect x="895" y="435" width="3" height="13" fill="#c0c0c0"/>
<rect x="899" y="435" width="3" height="13" fill="#c0c0c0"/>
<rect x="903" y="435" width="3" height="12" fill="#c0c0c0"/>
<rect x="907" y="435" width="3" height="13" fill="#c0c0c0"/>
<rect x="911" y="435" width="3" height="13" fill="#c0c0c0"/>
<rect x="915" y="435" width="3" height="12" fill="#c0c0c0"/>
<rect x="919" y="435" width="3" height="11" fill="#c0c0c0"/>
<rect x="923" y="435" width="3" height="10" fill="#c0c0c0"/></g>
<path d="M78 451h4v1h-4zM118 451h4v1h-4zM150 451h3v1h-3zM354 451h4v1h-4zM476 451h1v1h-1zM845 451h2v1h-2zM890 451h4v1h-4zM27 464h3v1h-3zM46 464h3v1h-3zM430 464h4v1h-4zM446 464h4v1h-4zM185 432h1v1h-1zM320 432h1v1h-1zM497 432h1v1h-1zM630 432h16v1h-16zM682 432h4v1h-4zM186 431h2v1h-2zM318 431h2v1h-2zM498 431h2v1h-2zM622 431h8v1h-8zM646 431h12v1h-12zM674 431h8v1h-8zM257 415h2v1h-2zM291 415h2v1h-2zM238 421h4v1h-4zM303 421h2v1h-2zM515 421h7v1h-7zM558 421h8v1h-8zM72 453h2v1h-2zM126 453h4v1h-4zM142 453h4v1h-4zM361 453h2v1h-2zM473 453h1v1h-1zM849 453h2v1h-2zM882 453h4v1h-4zM165 443h2v1h-2zM335 443h2v1h-2zM485 443h1v1h-1zM722 443h8v1h-8zM738 443h4v1h-4zM827 443h3v1h-3zM4 458h6v1h-6zM63 458h2v1h-2zM382 458h8v1h-8zM394 458h16v1h-16zM463 458h2v1h-2zM189 429h2v1h-2zM316 429h1v1h-1zM501 429h1v1h-1zM614 429h4v1h-4zM98 447h8v1h-8zM159 447h2v1h-2zM343 447h3v1h-3zM481 447h1v1h-1zM837 447h2v1h-2zM922 447h3v1h-3zM179 435h2v1h-2zM324 435h1v1h-1zM493 435h1v1h-1zM693 435h2v1h-2zM770 435h12v1h-12zM162 445h2v1h-2zM339 445h2v1h-2zM483 445h1v1h-1zM833 445h2v1h-2zM86 449h4v1h-4zM110 449h4v1h-4zM155 449h2v1h-2zM349 449h2v1h-2zM478 449h2v1h-2zM841 449h2v1h-2zM902 449h12v1h-12zM169 441h1v1h-1zM332 441h1v1h-1zM487 441h1v1h-1zM714 441h4v1h-4zM750 441h4v1h-4zM822 441h3v1h-3zM167 442h2v1h-2zM333 442h2v1h-2zM486 442h1v1h-1zM718 442h4v1h-4zM742 442h8v1h-8zM825 442h2v1h-2zM175 437h2v1h-2zM326 437h2v1h-2zM491 437h1v1h-1zM698 437h4v1h-4zM763 437h3v1h-3zM790 437h8v1h-8zM69 455h1v1h-1zM366 455h8v1h-8zM469 455h2v1h-2zM854 455h4v1h-4zM870 455h8v1h-8zM266 412h4v1h-4zM282 412h4v1h-4zM242 420h4v1h-4zM301 420h2v1h-2zM522 420h12v1h-12zM546 420h12v1h-12zM202 424h4v1h-4zM309 424h1v1h-1zM509 424h2v1h-2zM578 424h16v1h-16zM18 461h4v1h-4zM54 461h4v1h-4zM418 461h4v1h-4zM457 461h2v1h-2zM198 425h4v1h-4zM310 425h2v1h-2zM507 425h2v1h-2zM594 425h8v1h-8zM34 466h8v1h-8zM188 430h1v1h-1zM317 430h1v1h-1zM500 430h1v1h-1zM618 430h4v1h-4zM658 430h16v1h-16zM172 439h1v1h-1zM329 439h1v1h-1zM489 439h1v1h-1zM705 439h2v1h-2zM758 439h3v1h-3zM806 439h8v1h-8zM74 452h4v1h-4zM122 452h4v1h-4zM146 452h4v1h-4zM358 452h3v1h-3zM474 452h2v1h-2zM847 452h2v1h-2zM886 452h4v1h-4zM246 419h3v1h-3zM299 419h2v1h-2zM534 419h12v1h-12zM191 428h2v1h-2zM314 428h2v1h-2zM502 428h2v1h-2zM610 428h4v1h-4zM193 427h2v1h-2zM313 427h1v1h-1zM504 427h1v1h-1zM606 427h4v1h-4zM25 463h2v1h-2zM49 463h2v1h-2zM426 463h4v1h-4zM450 463h4v1h-4zM30 465h4v1h-4zM42 465h4v1h-4zM434 465h12v1h-12zM170 440h2v1h-2zM330 440h2v1h-2zM488 440h1v1h-1zM707 440h7v1h-7zM754 440h4v1h-4zM814 440h8v1h-8zM70 454h2v1h-2zM130 454h12v1h-12zM363 454h3v1h-3zM471 454h2v1h-2zM851 454h3v1h-3zM878 454h4v1h-4zM65 457h2v1h-2zM378 457h4v1h-4zM465 457h2v1h-2zM210 422h16v1h-16zM234 422h4v1h-4zM305 422h2v1h-2zM513 422h2v1h-2zM566 422h8v1h-8zM164 444h1v1h-1zM337 444h2v1h-2zM484 444h1v1h-1zM730 444h8v1h-8zM830 444h3v1h-3zM181 434h2v1h-2zM322 434h2v1h-2zM494 434h2v1h-2zM690 434h3v1h-3zM177 436h2v1h-2zM325 436h1v1h-1zM492 436h1v1h-1zM695 436h3v1h-3zM766 436h4v1h-4zM782 436h8v1h-8zM90 448h8v1h-8zM106 448h4v1h-4zM157 448h2v1h-2zM346 448h3v1h-3zM480 448h1v1h-1zM839 448h2v1h-2zM914 448h8v1h-8zM67 456h2v1h-2zM374 456h4v1h-4zM467 456h2v1h-2zM858 456h12v1h-12zM82 450h4v1h-4zM114 450h4v1h-4zM153 450h2v1h-2zM351 450h3v1h-3zM477 450h1v1h-1zM843 450h2v1h-2zM894 450h8v1h-8zM270 411h12v1h-12zM173 438h2v1h-2zM328 438h1v1h-1zM490 438h1v1h-1zM702 438h3v1h-3zM761 438h2v1h-2zM798 438h8v1h-8zM14 460h4v1h-4zM58 460h3v1h-3zM414 460h4v1h-4zM459 460h2v1h-2zM206 423h4v1h-4zM226 423h8v1h-8zM307 423h2v1h-2zM511 423h2v1h-2zM574 423h4v1h-4zM251 417h3v1h-3zM295 417h2v1h-2zM10 459h4v1h-4zM61 459h2v1h-2zM390 459h4v1h-4zM410 459h4v1h-4zM461 459h2v1h-2zM262 413h4v1h-4zM286 413h3v1h-3zM161 446h1v1h-1zM341 446h2v1h-2zM482 446h1v1h-1zM835 446h2v1h-2zM195 426h3v1h-3zM312 426h1v1h-1zM505 426h2v1h-2zM602 426h4v1h-4zM22 462h3v1h-3zM51 462h3v1h-3zM422 462h4v1h-4zM454 462h3v1h-3zM183 433h2v1h-2zM321 433h1v1h-1zM496 433h1v1h-1zM686 433h4v1h-4zM259 414h3v1h-3zM289 414h2v1h-2zM254 416h3v1h-3zM293 416h2v1h-2zM249 418h2v1h-2zM297 418h2v1h-2z" fill="#ff0000"/>
<text x="8" y="416" class="ax" textLength="66" lengthAdjust="spacingAndGlyphs">MACD(12,26,9)</text>
<text x="77" y="416" class="ax">-0.008719</text>
<text x="121" y="416" class="ax">-0.010699</text>
<rect x="1167" y="405" width="2" height="1" fill="#000"/>
<text x="1170" y="414" class="ax">0.02607</text>
<rect x="1167" y="435" width="2" height="1" fill="#000"/>
<text x="1170" y="439" class="ax">0.00</text>
<rect x="1167" y="471" width="2" height="1" fill="#000"/>
<text x="1169" y="469" class="ax">-0.03187</text>
<rect x="5" y="496" width="3" height="1" fill="#a8a8a8"/>
<rect x="11" y="496" width="3" height="1" fill="#a8a8a8"/>
<rect x="17" y="496" width="3" height="1" fill="#a8a8a8"/>
<rect x="23" y="496" width="3" height="1" fill="#a8a8a8"/>
<rect x="29" y="496" width="3" height="1" fill="#a8a8a8"/>
<rect x="35" y="496" width="3" height="1" fill="#a8a8a8"/>
<rect x="41" y="496" width="3" height="1" fill="#a8a8a8"/>
<rect x="47" y="496" width="3" height="1" fill="#a8a8a8"/>
<rect x="53" y="496" width="3" height="1" fill="#a8a8a8"/>
<rect x="59" y="496" width="3" height="1" fill="#a8a8a8"/>
<rect x="65" y="496" width="3" height="1" fill="#a8a8a8"/>
<rect x="71" y="496" width="3" height="1" fill="#a8a8a8"/>
<rect x="77" y="496" width="3" height="1" fill="#a8a8a8"/>
<rect x="83" y="496" width="3" height="1" fill="#a8a8a8"/>
<rect x="89" y="496" width="3" height="1" fill="#a8a8a8"/>
<rect x="95" y="496" width="3" height="1" fill="#a8a8a8"/>
<rect x="101" y="496" width="3" height="1" fill="#a8a8a8"/>
<rect x="107" y="496" width="3" height="1" fill="#a8a8a8"/>
<rect x="113" y="496" width="3" height="1" fill="#a8a8a8"/>
<rect x="119" y="496" width="3" height="1" fill="#a8a8a8"/>
<rect x="125" y="496" width="3" height="1" fill="#a8a8a8"/>
<rect x="131" y="496" width="3" height="1" fill="#a8a8a8"/>
<rect x="137" y="496" width="3" height="1" fill="#a8a8a8"/>
<rect x="143" y="496" width="3" height="1" fill="#a8a8a8"/>
<rect x="149" y="496" width="3" height="1" fill="#a8a8a8"/>
<rect x="155" y="496" width="3" height="1" fill="#a8a8a8"/>
<rect x="161" y="496" width="3" height="1" fill="#a8a8a8"/>
<rect x="167" y="496" width="3" height="1" fill="#a8a8a8"/>
<rect x="173" y="496" width="3" height="1" fill="#a8a8a8"/>
<rect x="179" y="496" width="3" height="1" fill="#a8a8a8"/>
<rect x="185" y="496" width="3" height="1" fill="#a8a8a8"/>
<rect x="191" y="496" width="3" height="1" fill="#a8a8a8"/>
<rect x="197" y="496" width="3" height="1" fill="#a8a8a8"/>
<rect x="203" y="496" width="3" height="1" fill="#a8a8a8"/>
<rect x="209" y="496" width="3" height="1" fill="#a8a8a8"/>
<rect x="215" y="496" width="3" height="1" fill="#a8a8a8"/>
<rect x="221" y="496" width="3" height="1" fill="#a8a8a8"/>
<rect x="227" y="496" width="3" height="1" fill="#a8a8a8"/>
<rect x="233" y="496" width="3" height="1" fill="#a8a8a8"/>
<rect x="239" y="496" width="3" height="1" fill="#a8a8a8"/>
<rect x="245" y="496" width="3" height="1" fill="#a8a8a8"/>
<rect x="251" y="496" width="3" height="1" fill="#a8a8a8"/>
<rect x="257" y="496" width="3" height="1" fill="#a8a8a8"/>
<rect x="263" y="496" width="3" height="1" fill="#a8a8a8"/>
<rect x="269" y="496" width="3" height="1" fill="#a8a8a8"/>
<rect x="275" y="496" width="3" height="1" fill="#a8a8a8"/>
<rect x="281" y="496" width="3" height="1" fill="#a8a8a8"/>
<rect x="287" y="496" width="3" height="1" fill="#a8a8a8"/>
<rect x="293" y="496" width="3" height="1" fill="#a8a8a8"/>
<rect x="299" y="496" width="3" height="1" fill="#a8a8a8"/>
<rect x="305" y="496" width="3" height="1" fill="#a8a8a8"/>
<rect x="311" y="496" width="3" height="1" fill="#a8a8a8"/>
<rect x="317" y="496" width="3" height="1" fill="#a8a8a8"/>
<rect x="323" y="496" width="3" height="1" fill="#a8a8a8"/>
<rect x="329" y="496" width="3" height="1" fill="#a8a8a8"/>
<rect x="335" y="496" width="3" height="1" fill="#a8a8a8"/>
<rect x="341" y="496" width="3" height="1" fill="#a8a8a8"/>
<rect x="347" y="496" width="3" height="1" fill="#a8a8a8"/>
<rect x="353" y="496" width="3" height="1" fill="#a8a8a8"/>
<rect x="359" y="496" width="3" height="1" fill="#a8a8a8"/>
<rect x="365" y="496" width="3" height="1" fill="#a8a8a8"/>
<rect x="371" y="496" width="3" height="1" fill="#a8a8a8"/>
<rect x="377" y="496" width="3" height="1" fill="#a8a8a8"/>
<rect x="383" y="496" width="3" height="1" fill="#a8a8a8"/>
<rect x="389" y="496" width="3" height="1" fill="#a8a8a8"/>
<rect x="395" y="496" width="3" height="1" fill="#a8a8a8"/>
<rect x="401" y="496" width="3" height="1" fill="#a8a8a8"/>
<rect x="407" y="496" width="3" height="1" fill="#a8a8a8"/>
<rect x="413" y="496" width="3" height="1" fill="#a8a8a8"/>
<rect x="419" y="496" width="3" height="1" fill="#a8a8a8"/>
<rect x="425" y="496" width="3" height="1" fill="#a8a8a8"/>
<rect x="431" y="496" width="3" height="1" fill="#a8a8a8"/>
<rect x="437" y="496" width="3" height="1" fill="#a8a8a8"/>
<rect x="443" y="496" width="3" height="1" fill="#a8a8a8"/>
<rect x="449" y="496" width="3" height="1" fill="#a8a8a8"/>
<rect x="455" y="496" width="3" height="1" fill="#a8a8a8"/>
<rect x="461" y="496" width="3" height="1" fill="#a8a8a8"/>
<rect x="467" y="496" width="3" height="1" fill="#a8a8a8"/>
<rect x="473" y="496" width="3" height="1" fill="#a8a8a8"/>
<rect x="479" y="496" width="3" height="1" fill="#a8a8a8"/>
<rect x="485" y="496" width="3" height="1" fill="#a8a8a8"/>
<rect x="491" y="496" width="3" height="1" fill="#a8a8a8"/>
<rect x="497" y="496" width="3" height="1" fill="#a8a8a8"/>
<rect x="503" y="496" width="3" height="1" fill="#a8a8a8"/>
<rect x="509" y="496" width="3" height="1" fill="#a8a8a8"/>
<rect x="515" y="496" width="3" height="1" fill="#a8a8a8"/>
<rect x="521" y="496" width="3" height="1" fill="#a8a8a8"/>
<rect x="527" y="496" width="3" height="1" fill="#a8a8a8"/>
<rect x="533" y="496" width="3" height="1" fill="#a8a8a8"/>
<rect x="539" y="496" width="3" height="1" fill="#a8a8a8"/>
<rect x="545" y="496" width="3" height="1" fill="#a8a8a8"/>
<rect x="551" y="496" width="3" height="1" fill="#a8a8a8"/>
<rect x="557" y="496" width="3" height="1" fill="#a8a8a8"/>
<rect x="563" y="496" width="3" height="1" fill="#a8a8a8"/>
<rect x="569" y="496" width="3" height="1" fill="#a8a8a8"/>
<rect x="575" y="496" width="3" height="1" fill="#a8a8a8"/>
<rect x="581" y="496" width="3" height="1" fill="#a8a8a8"/>
<rect x="587" y="496" width="3" height="1" fill="#a8a8a8"/>
<rect x="593" y="496" width="3" height="1" fill="#a8a8a8"/>
<rect x="599" y="496" width="3" height="1" fill="#a8a8a8"/>
<rect x="605" y="496" width="3" height="1" fill="#a8a8a8"/>
<rect x="611" y="496" width="3" height="1" fill="#a8a8a8"/>
<rect x="617" y="496" width="3" height="1" fill="#a8a8a8"/>
<rect x="623" y="496" width="3" height="1" fill="#a8a8a8"/>
<rect x="629" y="496" width="3" height="1" fill="#a8a8a8"/>
<rect x="635" y="496" width="3" height="1" fill="#a8a8a8"/>
<rect x="641" y="496" width="3" height="1" fill="#a8a8a8"/>
<rect x="647" y="496" width="3" height="1" fill="#a8a8a8"/>
<rect x="653" y="496" width="3" height="1" fill="#a8a8a8"/>
<rect x="659" y="496" width="3" height="1" fill="#a8a8a8"/>
<rect x="665" y="496" width="3" height="1" fill="#a8a8a8"/>
<rect x="671" y="496" width="3" height="1" fill="#a8a8a8"/>
<rect x="677" y="496" width="3" height="1" fill="#a8a8a8"/>
<rect x="683" y="496" width="3" height="1" fill="#a8a8a8"/>
<rect x="689" y="496" width="3" height="1" fill="#a8a8a8"/>
<rect x="695" y="496" width="3" height="1" fill="#a8a8a8"/>
<rect x="701" y="496" width="3" height="1" fill="#a8a8a8"/>
<rect x="707" y="496" width="3" height="1" fill="#a8a8a8"/>
<rect x="713" y="496" width="3" height="1" fill="#a8a8a8"/>
<rect x="719" y="496" width="3" height="1" fill="#a8a8a8"/>
<rect x="725" y="496" width="3" height="1" fill="#a8a8a8"/>
<rect x="731" y="496" width="3" height="1" fill="#a8a8a8"/>
<rect x="737" y="496" width="3" height="1" fill="#a8a8a8"/>
<rect x="743" y="496" width="3" height="1" fill="#a8a8a8"/>
<rect x="749" y="496" width="3" height="1" fill="#a8a8a8"/>
<rect x="755" y="496" width="3" height="1" fill="#a8a8a8"/>
<rect x="761" y="496" width="3" height="1" fill="#a8a8a8"/>
<rect x="767" y="496" width="3" height="1" fill="#a8a8a8"/>
<rect x="773" y="496" width="3" height="1" fill="#a8a8a8"/>
<rect x="779" y="496" width="3" height="1" fill="#a8a8a8"/>
<rect x="785" y="496" width="3" height="1" fill="#a8a8a8"/>
<rect x="791" y="496" width="3" height="1" fill="#a8a8a8"/>
<rect x="797" y="496" width="3" height="1" fill="#a8a8a8"/>
<rect x="803" y="496" width="3" height="1" fill="#a8a8a8"/>
<rect x="809" y="496" width="3" height="1" fill="#a8a8a8"/>
<rect x="815" y="496" width="3" height="1" fill="#a8a8a8"/>
<rect x="821" y="496" width="3" height="1" fill="#a8a8a8"/>
<rect x="827" y="496" width="3" height="1" fill="#a8a8a8"/>
<rect x="833" y="496" width="3" height="1" fill="#a8a8a8"/>
<rect x="839" y="496" width="3" height="1" fill="#a8a8a8"/>
<rect x="845" y="496" width="3" height="1" fill="#a8a8a8"/>
<rect x="851" y="496" width="3" height="1" fill="#a8a8a8"/>
<rect x="857" y="496" width="3" height="1" fill="#a8a8a8"/>
<rect x="863" y="496" width="3" height="1" fill="#a8a8a8"/>
<rect x="869" y="496" width="3" height="1" fill="#a8a8a8"/>
<rect x="875" y="496" width="3" height="1" fill="#a8a8a8"/>
<rect x="881" y="496" width="3" height="1" fill="#a8a8a8"/>
<rect x="887" y="496" width="3" height="1" fill="#a8a8a8"/>
<rect x="893" y="496" width="3" height="1" fill="#a8a8a8"/>
<rect x="899" y="496" width="3" height="1" fill="#a8a8a8"/>
<rect x="905" y="496" width="3" height="1" fill="#a8a8a8"/>
<rect x="911" y="496" width="3" height="1" fill="#a8a8a8"/>
<rect x="917" y="496" width="3" height="1" fill="#a8a8a8"/>
<rect x="923" y="496" width="3" height="1" fill="#a8a8a8"/>
<rect x="929" y="496" width="3" height="1" fill="#a8a8a8"/>
<rect x="935" y="496" width="3" height="1" fill="#a8a8a8"/>
<rect x="941" y="496" width="3" height="1" fill="#a8a8a8"/>
<rect x="947" y="496" width="3" height="1" fill="#a8a8a8"/>
<rect x="953" y="496" width="3" height="1" fill="#a8a8a8"/>
<rect x="959" y="496" width="3" height="1" fill="#a8a8a8"/>
<rect x="965" y="496" width="3" height="1" fill="#a8a8a8"/>
<rect x="971" y="496" width="3" height="1" fill="#a8a8a8"/>
<rect x="977" y="496" width="3" height="1" fill="#a8a8a8"/>
<rect x="983" y="496" width="3" height="1" fill="#a8a8a8"/>
<rect x="989" y="496" width="3" height="1" fill="#a8a8a8"/>
<rect x="995" y="496" width="3" height="1" fill="#a8a8a8"/>
<rect x="1001" y="496" width="3" height="1" fill="#a8a8a8"/>
<rect x="1007" y="496" width="3" height="1" fill="#a8a8a8"/>
<rect x="1013" y="496" width="3" height="1" fill="#a8a8a8"/>
<rect x="1019" y="496" width="3" height="1" fill="#a8a8a8"/>
<rect x="1025" y="496" width="3" height="1" fill="#a8a8a8"/>
<rect x="1031" y="496" width="3" height="1" fill="#a8a8a8"/>
<rect x="1037" y="496" width="3" height="1" fill="#a8a8a8"/>
<rect x="1043" y="496" width="3" height="1" fill="#a8a8a8"/>
<rect x="1049" y="496" width="3" height="1" fill="#a8a8a8"/>
<rect x="1055" y="496" width="3" height="1" fill="#a8a8a8"/>
<rect x="1061" y="496" width="3" height="1" fill="#a8a8a8"/>
<rect x="1067" y="496" width="3" height="1" fill="#a8a8a8"/>
<rect x="1073" y="496" width="3" height="1" fill="#a8a8a8"/>
<rect x="1079" y="496" width="3" height="1" fill="#a8a8a8"/>
<rect x="1085" y="496" width="3" height="1" fill="#a8a8a8"/>
<rect x="1091" y="496" width="3" height="1" fill="#a8a8a8"/>
<rect x="1097" y="496" width="3" height="1" fill="#a8a8a8"/>
<rect x="1103" y="496" width="3" height="1" fill="#a8a8a8"/>
<rect x="1109" y="496" width="3" height="1" fill="#a8a8a8"/>
<rect x="1115" y="496" width="3" height="1" fill="#a8a8a8"/>
<rect x="1121" y="496" width="3" height="1" fill="#a8a8a8"/>
<rect x="1127" y="496" width="3" height="1" fill="#a8a8a8"/>
<rect x="1133" y="496" width="3" height="1" fill="#a8a8a8"/>
<rect x="1139" y="496" width="3" height="1" fill="#a8a8a8"/>
<rect x="1145" y="496" width="3" height="1" fill="#a8a8a8"/>
<rect x="1151" y="496" width="3" height="1" fill="#a8a8a8"/>
<rect x="1157" y="496" width="3" height="1" fill="#a8a8a8"/>
<rect x="1163" y="496" width="3" height="1" fill="#a8a8a8"/>
<rect x="5" y="524" width="3" height="1" fill="#a8a8a8"/>
<rect x="11" y="524" width="3" height="1" fill="#a8a8a8"/>
<rect x="17" y="524" width="3" height="1" fill="#a8a8a8"/>
<rect x="23" y="524" width="3" height="1" fill="#a8a8a8"/>
<rect x="29" y="524" width="3" height="1" fill="#a8a8a8"/>
<rect x="35" y="524" width="3" height="1" fill="#a8a8a8"/>
<rect x="41" y="524" width="3" height="1" fill="#a8a8a8"/>
<rect x="47" y="524" width="3" height="1" fill="#a8a8a8"/>
<rect x="53" y="524" width="3" height="1" fill="#a8a8a8"/>
<rect x="59" y="524" width="3" height="1" fill="#a8a8a8"/>
<rect x="65" y="524" width="3" height="1" fill="#a8a8a8"/>
<rect x="71" y="524" width="3" height="1" fill="#a8a8a8"/>
<rect x="77" y="524" width="3" height="1" fill="#a8a8a8"/>
<rect x="83" y="524" width="3" height="1" fill="#a8a8a8"/>
<rect x="89" y="524" width="3" height="1" fill="#a8a8a8"/>
<rect x="95" y="524" width="3" height="1" fill="#a8a8a8"/>
<rect x="101" y="524" width="3" height="1" fill="#a8a8a8"/>
<rect x="107" y="524" width="3" height="1" fill="#a8a8a8"/>
<rect x="113" y="524" width="3" height="1" fill="#a8a8a8"/>
<rect x="119" y="524" width="3" height="1" fill="#a8a8a8"/>
<rect x="125" y="524" width="3" height="1" fill="#a8a8a8"/>
<rect x="131" y="524" width="3" height="1" fill="#a8a8a8"/>
<rect x="137" y="524" width="3" height="1" fill="#a8a8a8"/>
<rect x="143" y="524" width="3" height="1" fill="#a8a8a8"/>
<rect x="149" y="524" width="3" height="1" fill="#a8a8a8"/>
<rect x="155" y="524" width="3" height="1" fill="#a8a8a8"/>
<rect x="161" y="524" width="3" height="1" fill="#a8a8a8"/>
<rect x="167" y="524" width="3" height="1" fill="#a8a8a8"/>
<rect x="173" y="524" width="3" height="1" fill="#a8a8a8"/>
<rect x="179" y="524" width="3" height="1" fill="#a8a8a8"/>
<rect x="185" y="524" width="3" height="1" fill="#a8a8a8"/>
<rect x="191" y="524" width="3" height="1" fill="#a8a8a8"/>
<rect x="197" y="524" width="3" height="1" fill="#a8a8a8"/>
<rect x="203" y="524" width="3" height="1" fill="#a8a8a8"/>
<rect x="209" y="524" width="3" height="1" fill="#a8a8a8"/>
<rect x="215" y="524" width="3" height="1" fill="#a8a8a8"/>
<rect x="221" y="524" width="3" height="1" fill="#a8a8a8"/>
<rect x="227" y="524" width="3" height="1" fill="#a8a8a8"/>
<rect x="233" y="524" width="3" height="1" fill="#a8a8a8"/>
<rect x="239" y="524" width="3" height="1" fill="#a8a8a8"/>
<rect x="245" y="524" width="3" height="1" fill="#a8a8a8"/>
<rect x="251" y="524" width="3" height="1" fill="#a8a8a8"/>
<rect x="257" y="524" width="3" height="1" fill="#a8a8a8"/>
<rect x="263" y="524" width="3" height="1" fill="#a8a8a8"/>
<rect x="269" y="524" width="3" height="1" fill="#a8a8a8"/>
<rect x="275" y="524" width="3" height="1" fill="#a8a8a8"/>
<rect x="281" y="524" width="3" height="1" fill="#a8a8a8"/>
<rect x="287" y="524" width="3" height="1" fill="#a8a8a8"/>
<rect x="293" y="524" width="3" height="1" fill="#a8a8a8"/>
<rect x="299" y="524" width="3" height="1" fill="#a8a8a8"/>
<rect x="305" y="524" width="3" height="1" fill="#a8a8a8"/>
<rect x="311" y="524" width="3" height="1" fill="#a8a8a8"/>
<rect x="317" y="524" width="3" height="1" fill="#a8a8a8"/>
<rect x="323" y="524" width="3" height="1" fill="#a8a8a8"/>
<rect x="329" y="524" width="3" height="1" fill="#a8a8a8"/>
<rect x="335" y="524" width="3" height="1" fill="#a8a8a8"/>
<rect x="341" y="524" width="3" height="1" fill="#a8a8a8"/>
<rect x="347" y="524" width="3" height="1" fill="#a8a8a8"/>
<rect x="353" y="524" width="3" height="1" fill="#a8a8a8"/>
<rect x="359" y="524" width="3" height="1" fill="#a8a8a8"/>
<rect x="365" y="524" width="3" height="1" fill="#a8a8a8"/>
<rect x="371" y="524" width="3" height="1" fill="#a8a8a8"/>
<rect x="377" y="524" width="3" height="1" fill="#a8a8a8"/>
<rect x="383" y="524" width="3" height="1" fill="#a8a8a8"/>
<rect x="389" y="524" width="3" height="1" fill="#a8a8a8"/>
<rect x="395" y="524" width="3" height="1" fill="#a8a8a8"/>
<rect x="401" y="524" width="3" height="1" fill="#a8a8a8"/>
<rect x="407" y="524" width="3" height="1" fill="#a8a8a8"/>
<rect x="413" y="524" width="3" height="1" fill="#a8a8a8"/>
<rect x="419" y="524" width="3" height="1" fill="#a8a8a8"/>
<rect x="425" y="524" width="3" height="1" fill="#a8a8a8"/>
<rect x="431" y="524" width="3" height="1" fill="#a8a8a8"/>
<rect x="437" y="524" width="3" height="1" fill="#a8a8a8"/>
<rect x="443" y="524" width="3" height="1" fill="#a8a8a8"/>
<rect x="449" y="524" width="3" height="1" fill="#a8a8a8"/>
<rect x="455" y="524" width="3" height="1" fill="#a8a8a8"/>
<rect x="461" y="524" width="3" height="1" fill="#a8a8a8"/>
<rect x="467" y="524" width="3" height="1" fill="#a8a8a8"/>
<rect x="473" y="524" width="3" height="1" fill="#a8a8a8"/>
<rect x="479" y="524" width="3" height="1" fill="#a8a8a8"/>
<rect x="485" y="524" width="3" height="1" fill="#a8a8a8"/>
<rect x="491" y="524" width="3" height="1" fill="#a8a8a8"/>
<rect x="497" y="524" width="3" height="1" fill="#a8a8a8"/>
<rect x="503" y="524" width="3" height="1" fill="#a8a8a8"/>
<rect x="509" y="524" width="3" height="1" fill="#a8a8a8"/>
<rect x="515" y="524" width="3" height="1" fill="#a8a8a8"/>
<rect x="521" y="524" width="3" height="1" fill="#a8a8a8"/>
<rect x="527" y="524" width="3" height="1" fill="#a8a8a8"/>
<rect x="533" y="524" width="3" height="1" fill="#a8a8a8"/>
<rect x="539" y="524" width="3" height="1" fill="#a8a8a8"/>
<rect x="545" y="524" width="3" height="1" fill="#a8a8a8"/>
<rect x="551" y="524" width="3" height="1" fill="#a8a8a8"/>
<rect x="557" y="524" width="3" height="1" fill="#a8a8a8"/>
<rect x="563" y="524" width="3" height="1" fill="#a8a8a8"/>
<rect x="569" y="524" width="3" height="1" fill="#a8a8a8"/>
<rect x="575" y="524" width="3" height="1" fill="#a8a8a8"/>
<rect x="581" y="524" width="3" height="1" fill="#a8a8a8"/>
<rect x="587" y="524" width="3" height="1" fill="#a8a8a8"/>
<rect x="593" y="524" width="3" height="1" fill="#a8a8a8"/>
<rect x="599" y="524" width="3" height="1" fill="#a8a8a8"/>
<rect x="605" y="524" width="3" height="1" fill="#a8a8a8"/>
<rect x="611" y="524" width="3" height="1" fill="#a8a8a8"/>
<rect x="617" y="524" width="3" height="1" fill="#a8a8a8"/>
<rect x="623" y="524" width="3" height="1" fill="#a8a8a8"/>
<rect x="629" y="524" width="3" height="1" fill="#a8a8a8"/>
<rect x="635" y="524" width="3" height="1" fill="#a8a8a8"/>
<rect x="641" y="524" width="3" height="1" fill="#a8a8a8"/>
<rect x="647" y="524" width="3" height="1" fill="#a8a8a8"/>
<rect x="653" y="524" width="3" height="1" fill="#a8a8a8"/>
<rect x="659" y="524" width="3" height="1" fill="#a8a8a8"/>
<rect x="665" y="524" width="3" height="1" fill="#a8a8a8"/>
<rect x="671" y="524" width="3" height="1" fill="#a8a8a8"/>
<rect x="677" y="524" width="3" height="1" fill="#a8a8a8"/>
<rect x="683" y="524" width="3" height="1" fill="#a8a8a8"/>
<rect x="689" y="524" width="3" height="1" fill="#a8a8a8"/>
<rect x="695" y="524" width="3" height="1" fill="#a8a8a8"/>
<rect x="701" y="524" width="3" height="1" fill="#a8a8a8"/>
<rect x="707" y="524" width="3" height="1" fill="#a8a8a8"/>
<rect x="713" y="524" width="3" height="1" fill="#a8a8a8"/>
<rect x="719" y="524" width="3" height="1" fill="#a8a8a8"/>
<rect x="725" y="524" width="3" height="1" fill="#a8a8a8"/>
<rect x="731" y="524" width="3" height="1" fill="#a8a8a8"/>
<rect x="737" y="524" width="3" height="1" fill="#a8a8a8"/>
<rect x="743" y="524" width="3" height="1" fill="#a8a8a8"/>
<rect x="749" y="524" width="3" height="1" fill="#a8a8a8"/>
<rect x="755" y="524" width="3" height="1" fill="#a8a8a8"/>
<rect x="761" y="524" width="3" height="1" fill="#a8a8a8"/>
<rect x="767" y="524" width="3" height="1" fill="#a8a8a8"/>
<rect x="773" y="524" width="3" height="1" fill="#a8a8a8"/>
<rect x="779" y="524" width="3" height="1" fill="#a8a8a8"/>
<rect x="785" y="524" width="3" height="1" fill="#a8a8a8"/>
<rect x="791" y="524" width="3" height="1" fill="#a8a8a8"/>
<rect x="797" y="524" width="3" height="1" fill="#a8a8a8"/>
<rect x="803" y="524" width="3" height="1" fill="#a8a8a8"/>
<rect x="809" y="524" width="3" height="1" fill="#a8a8a8"/>
<rect x="815" y="524" width="3" height="1" fill="#a8a8a8"/>
<rect x="821" y="524" width="3" height="1" fill="#a8a8a8"/>
<rect x="827" y="524" width="3" height="1" fill="#a8a8a8"/>
<rect x="833" y="524" width="3" height="1" fill="#a8a8a8"/>
<rect x="839" y="524" width="3" height="1" fill="#a8a8a8"/>
<rect x="845" y="524" width="3" height="1" fill="#a8a8a8"/>
<rect x="851" y="524" width="3" height="1" fill="#a8a8a8"/>
<rect x="857" y="524" width="3" height="1" fill="#a8a8a8"/>
<rect x="863" y="524" width="3" height="1" fill="#a8a8a8"/>
<rect x="869" y="524" width="3" height="1" fill="#a8a8a8"/>
<rect x="875" y="524" width="3" height="1" fill="#a8a8a8"/>
<rect x="881" y="524" width="3" height="1" fill="#a8a8a8"/>
<rect x="887" y="524" width="3" height="1" fill="#a8a8a8"/>
<rect x="893" y="524" width="3" height="1" fill="#a8a8a8"/>
<rect x="899" y="524" width="3" height="1" fill="#a8a8a8"/>
<rect x="905" y="524" width="3" height="1" fill="#a8a8a8"/>
<rect x="911" y="524" width="3" height="1" fill="#a8a8a8"/>
<rect x="917" y="524" width="3" height="1" fill="#a8a8a8"/>
<rect x="923" y="524" width="3" height="1" fill="#a8a8a8"/>
<rect x="929" y="524" width="3" height="1" fill="#a8a8a8"/>
<rect x="935" y="524" width="3" height="1" fill="#a8a8a8"/>
<rect x="941" y="524" width="3" height="1" fill="#a8a8a8"/>
<rect x="947" y="524" width="3" height="1" fill="#a8a8a8"/>
<rect x="953" y="524" width="3" height="1" fill="#a8a8a8"/>
<rect x="959" y="524" width="3" height="1" fill="#a8a8a8"/>
<rect x="965" y="524" width="3" height="1" fill="#a8a8a8"/>
<rect x="971" y="524" width="3" height="1" fill="#a8a8a8"/>
<rect x="977" y="524" width="3" height="1" fill="#a8a8a8"/>
<rect x="983" y="524" width="3" height="1" fill="#a8a8a8"/>
<rect x="989" y="524" width="3" height="1" fill="#a8a8a8"/>
<rect x="995" y="524" width="3" height="1" fill="#a8a8a8"/>
<rect x="1001" y="524" width="3" height="1" fill="#a8a8a8"/>
<rect x="1007" y="524" width="3" height="1" fill="#a8a8a8"/>
<rect x="1013" y="524" width="3" height="1" fill="#a8a8a8"/>
<rect x="1019" y="524" width="3" height="1" fill="#a8a8a8"/>
<rect x="1025" y="524" width="3" height="1" fill="#a8a8a8"/>
<rect x="1031" y="524" width="3" height="1" fill="#a8a8a8"/>
<rect x="1037" y="524" width="3" height="1" fill="#a8a8a8"/>
<rect x="1043" y="524" width="3" height="1" fill="#a8a8a8"/>
<rect x="1049" y="524" width="3" height="1" fill="#a8a8a8"/>
<rect x="1055" y="524" width="3" height="1" fill="#a8a8a8"/>
<rect x="1061" y="524" width="3" height="1" fill="#a8a8a8"/>
<rect x="1067" y="524" width="3" height="1" fill="#a8a8a8"/>
<rect x="1073" y="524" width="3" height="1" fill="#a8a8a8"/>
<rect x="1079" y="524" width="3" height="1" fill="#a8a8a8"/>
<rect x="1085" y="524" width="3" height="1" fill="#a8a8a8"/>
<rect x="1091" y="524" width="3" height="1" fill="#a8a8a8"/>
<rect x="1097" y="524" width="3" height="1" fill="#a8a8a8"/>
<rect x="1103" y="524" width="3" height="1" fill="#a8a8a8"/>
<rect x="1109" y="524" width="3" height="1" fill="#a8a8a8"/>
<rect x="1115" y="524" width="3" height="1" fill="#a8a8a8"/>
<rect x="1121" y="524" width="3" height="1" fill="#a8a8a8"/>
<rect x="1127" y="524" width="3" height="1" fill="#a8a8a8"/>
<rect x="1133" y="524" width="3" height="1" fill="#a8a8a8"/>
<rect x="1139" y="524" width="3" height="1" fill="#a8a8a8"/>
<rect x="1145" y="524" width="3" height="1" fill="#a8a8a8"/>
<rect x="1151" y="524" width="3" height="1" fill="#a8a8a8"/>
<rect x="1157" y="524" width="3" height="1" fill="#a8a8a8"/>
<rect x="1163" y="524" width="3" height="1" fill="#a8a8a8"/>
<path d="M43 512h2v1h-2zM59 512h1v1h-1zM63 512h2v1h-2zM70 512h1v1h-1zM74 512h1v1h-1zM96 512h1v1h-1zM134 512h1v1h-1zM151 512h2v1h-2zM297 512h1v1h-1zM459 512h1v1h-1zM592 512h2v1h-2zM606 512h7v1h-7zM663 512h6v1h-6zM674 512h1v1h-1zM704 512h5v1h-5zM732 512h1v1h-1zM771 512h1v1h-1zM780 512h2v1h-2zM785 512h2v1h-2zM790 512h3v1h-3zM798 512h1v1h-1zM805 512h1v1h-1zM155 505h1v1h-1zM158 505h2v1h-2zM177 505h1v1h-1zM189 505h1v1h-1zM225 505h2v1h-2zM262 505h1v1h-1zM267 505h3v1h-3zM278 505h2v1h-2zM467 505h1v1h-1zM520 505h1v1h-1zM545 505h1v1h-1zM557 505h1v1h-1zM564 505h1v1h-1zM581 505h1v1h-1zM587 505h1v1h-1zM644 505h1v1h-1zM650 505h2v1h-2zM657 505h1v1h-1zM738 505h2v1h-2zM746 505h1v1h-1zM59 511h1v1h-1zM61 511h2v1h-2zM70 511h1v1h-1zM74 511h1v1h-1zM134 511h1v1h-1zM149 511h2v1h-2zM152 511h1v1h-1zM290 511h7v1h-7zM460 511h5v1h-5zM591 511h1v1h-1zM594 511h12v1h-12zM613 511h1v1h-1zM661 511h2v1h-2zM669 511h1v1h-1zM674 511h1v1h-1zM732 511h1v1h-1zM759 511h2v1h-2zM771 511h1v1h-1zM787 511h3v1h-3zM798 511h1v1h-1zM803 511h2v1h-2zM38 515h2v1h-2zM48 515h2v1h-2zM57 515h1v1h-1zM77 515h2v1h-2zM81 515h1v1h-1zM90 515h3v1h-3zM101 515h2v1h-2zM127 515h1v1h-1zM300 515h2v1h-2zM344 515h2v1h-2zM349 515h1v1h-1zM368 515h1v1h-1zM443 515h1v1h-1zM445 515h1v1h-1zM455 515h2v1h-2zM682 515h2v1h-2zM700 515h1v1h-1zM713 515h1v1h-1zM730 515h1v1h-1zM773 515h1v1h-1zM778 515h1v1h-1zM807 515h1v1h-1zM810 515h2v1h-2zM814 515h4v1h-4zM855 515h1v1h-1zM858 515h2v1h-2zM861 515h2v1h-2zM865 515h2v1h-2zM870 515h4v1h-4zM877 515h2v1h-2zM886 515h1v1h-1zM893 515h1v1h-1zM902 515h2v1h-2zM905 515h1v1h-1zM913 515h1v1h-1zM183 499h1v1h-1zM185 499h1v1h-1zM242 499h1v1h-1zM249 499h2v1h-2zM254 499h3v1h-3zM479 499h3v1h-3zM489 499h2v1h-2zM532 499h1v1h-1zM584 499h1v1h-1zM16 521h2v1h-2zM26 521h1v1h-1zM30 521h1v1h-1zM319 521h2v1h-2zM329 521h2v1h-2zM333 521h1v1h-1zM353 521h1v1h-1zM365 521h1v1h-1zM402 521h3v1h-3zM424 521h2v1h-2zM822 521h1v1h-1zM827 521h1v1h-1zM834 521h4v1h-4zM845 521h1v1h-1zM34 517h3v1h-3zM105 517h1v1h-1zM111 517h3v1h-3zM126 517h1v1h-1zM305 517h2v1h-2zM310 517h3v1h-3zM342 517h1v1h-1zM350 517h1v1h-1zM367 517h1v1h-1zM371 517h3v1h-3zM387 517h1v1h-1zM390 517h4v1h-4zM397 517h1v1h-1zM431 517h1v1h-1zM433 517h2v1h-2zM441 517h1v1h-1zM448 517h5v1h-5zM690 517h3v1h-3zM698 517h1v1h-1zM716 517h2v1h-2zM721 517h2v1h-2zM729 517h1v1h-1zM776 517h1v1h-1zM808 517h1v1h-1zM820 517h1v1h-1zM853 517h1v1h-1zM882 517h3v1h-3zM896 517h5v1h-5zM907 517h1v1h-1zM909 517h2v1h-2zM40 514h1v1h-1zM46 514h2v1h-2zM57 514h1v1h-1zM67 514h2v1h-2zM76 514h1v1h-1zM82 514h2v1h-2zM86 514h4v1h-4zM93 514h1v1h-1zM99 514h2v1h-2zM128 514h5v1h-5zM299 514h1v1h-1zM346 514h3v1h-3zM444 514h1v1h-1zM457 514h1v1h-1zM676 514h2v1h-2zM681 514h1v1h-1zM701 514h1v1h-1zM711 514h2v1h-2zM731 514h1v1h-1zM772 514h1v1h-1zM778 514h1v1h-1zM795 514h2v1h-2zM806 514h1v1h-1zM812 514h2v1h-2zM855 514h1v1h-1zM857 514h1v1h-1zM863 514h2v1h-2zM874 514h3v1h-3zM887 514h1v1h-1zM890 514h3v1h-3zM904 514h1v1h-1zM914 514h2v1h-2zM18 520h4v1h-4zM25 520h1v1h-1zM30 520h1v1h-1zM123 520h2v1h-2zM317 520h2v1h-2zM321 520h1v1h-1zM327 520h2v1h-2zM334 520h1v1h-1zM353 520h1v1h-1zM365 520h1v1h-1zM383 520h2v1h-2zM400 520h2v1h-2zM426 520h3v1h-3zM727 520h2v1h-2zM822 520h1v1h-1zM828 520h6v1h-6zM846 520h1v1h-1zM37 516h1v1h-1zM50 516h7v1h-7zM79 516h2v1h-2zM103 516h2v1h-2zM127 516h1v1h-1zM302 516h3v1h-3zM343 516h1v1h-1zM350 516h1v1h-1zM367 516h1v1h-1zM369 516h2v1h-2zM388 516h2v1h-2zM394 516h3v1h-3zM432 516h1v1h-1zM442 516h1v1h-1zM446 516h2v1h-2zM453 516h2v1h-2zM684 516h6v1h-6zM699 516h1v1h-1zM714 516h2v1h-2zM718 516h3v1h-3zM730 516h1v1h-1zM774 516h2v1h-2zM777 516h1v1h-1zM807 516h1v1h-1zM809 516h1v1h-1zM818 516h3v1h-3zM854 516h1v1h-1zM860 516h1v1h-1zM867 516h3v1h-3zM879 516h3v1h-3zM885 516h1v1h-1zM894 516h2v1h-2zM901 516h1v1h-1zM906 516h1v1h-1zM911 516h2v1h-2zM41 513h2v1h-2zM45 513h1v1h-1zM58 513h1v1h-1zM65 513h2v1h-2zM69 513h1v1h-1zM75 513h1v1h-1zM84 513h2v1h-2zM94 513h2v1h-2zM97 513h2v1h-2zM133 513h1v1h-1zM298 513h1v1h-1zM458 513h1v1h-1zM675 513h1v1h-1zM678 513h3v1h-3zM702 513h2v1h-2zM709 513h2v1h-2zM731 513h1v1h-1zM772 513h1v1h-1zM779 513h1v1h-1zM782 513h3v1h-3zM793 513h2v1h-2zM797 513h1v1h-1zM805 513h1v1h-1zM856 513h1v1h-1zM888 513h2v1h-2zM916 513h9v1h-9zM14 523h1v1h-1zM28 523h1v1h-1zM354 523h1v1h-1zM361 523h2v1h-2zM406 523h2v1h-2zM422 523h1v1h-1zM823 523h1v1h-1zM826 523h1v1h-1zM154 508h1v1h-1zM162 508h2v1h-2zM166 508h4v1h-4zM193 508h1v1h-1zM198 508h2v1h-2zM209 508h2v1h-2zM213 508h1v1h-1zM285 508h1v1h-1zM466 508h1v1h-1zM547 508h1v1h-1zM553 508h1v1h-1zM566 508h1v1h-1zM571 508h3v1h-3zM589 508h1v1h-1zM616 508h1v1h-1zM626 508h2v1h-2zM641 508h1v1h-1zM659 508h1v1h-1zM735 508h1v1h-1zM748 508h1v1h-1zM764 508h1v1h-1zM769 508h1v1h-1zM72 509h1v1h-1zM136 509h10v1h-10zM153 509h1v1h-1zM164 509h2v1h-2zM194 509h2v1h-2zM197 509h1v1h-1zM211 509h2v1h-2zM286 509h2v1h-2zM465 509h1v1h-1zM548 509h5v1h-5zM567 509h1v1h-1zM569 509h2v1h-2zM590 509h1v1h-1zM615 509h1v1h-1zM628 509h13v1h-13zM659 509h1v1h-1zM672 509h1v1h-1zM734 509h1v1h-1zM749 509h2v1h-2zM754 509h3v1h-3zM762 509h2v1h-2zM770 509h1v1h-1zM800 509h1v1h-1zM180 502h1v1h-1zM187 502h1v1h-1zM233 502h1v1h-1zM239 502h2v1h-2zM259 502h1v1h-1zM471 502h3v1h-3zM494 502h2v1h-2zM502 502h7v1h-7zM517 502h1v1h-1zM523 502h1v1h-1zM526 502h3v1h-3zM536 502h1v1h-1zM559 502h1v1h-1zM561 502h1v1h-1zM582 502h1v1h-1zM586 502h1v1h-1zM155 506h1v1h-1zM160 506h1v1h-1zM174 506h3v1h-3zM190 506h2v1h-2zM216 506h9v1h-9zM263 506h1v1h-1zM265 506h2v1h-2zM280 506h2v1h-2zM467 506h1v1h-1zM546 506h1v1h-1zM556 506h1v1h-1zM565 506h1v1h-1zM578 506h3v1h-3zM588 506h1v1h-1zM619 506h6v1h-6zM643 506h1v1h-1zM645 506h2v1h-2zM649 506h1v1h-1zM657 506h1v1h-1zM737 506h1v1h-1zM746 506h1v1h-1zM767 506h2v1h-2zM32 518h2v1h-2zM106 518h2v1h-2zM109 518h2v1h-2zM114 518h7v1h-7zM125 518h1v1h-1zM307 518h3v1h-3zM313 518h2v1h-2zM324 518h1v1h-1zM336 518h2v1h-2zM341 518h1v1h-1zM351 518h1v1h-1zM366 518h1v1h-1zM374 518h7v1h-7zM386 518h1v1h-1zM398 518h1v1h-1zM430 518h1v1h-1zM435 518h6v1h-6zM693 518h2v1h-2zM697 518h1v1h-1zM723 518h2v1h-2zM729 518h1v1h-1zM821 518h1v1h-1zM848 518h2v1h-2zM853 518h1v1h-1zM908 518h1v1h-1zM154 507h1v1h-1zM161 507h1v1h-1zM170 507h4v1h-4zM192 507h1v1h-1zM200 507h9v1h-9zM214 507h2v1h-2zM264 507h1v1h-1zM282 507h3v1h-3zM466 507h1v1h-1zM547 507h1v1h-1zM554 507h2v1h-2zM566 507h1v1h-1zM574 507h4v1h-4zM588 507h1v1h-1zM617 507h2v1h-2zM625 507h1v1h-1zM642 507h1v1h-1zM647 507h2v1h-2zM658 507h1v1h-1zM736 507h1v1h-1zM747 507h1v1h-1zM765 507h2v1h-2zM769 507h1v1h-1zM156 504h2v1h-2zM178 504h1v1h-1zM188 504h1v1h-1zM227 504h3v1h-3zM261 504h1v1h-1zM270 504h4v1h-4zM277 504h1v1h-1zM468 504h1v1h-1zM519 504h1v1h-1zM521 504h1v1h-1zM539 504h3v1h-3zM545 504h1v1h-1zM558 504h1v1h-1zM563 504h1v1h-1zM581 504h1v1h-1zM587 504h1v1h-1zM652 504h5v1h-5zM740 504h2v1h-2zM745 504h1v1h-1zM10 526h2v1h-2zM356 526h1v1h-1zM413 526h2v1h-2zM417 526h2v1h-2zM156 503h1v1h-1zM179 503h1v1h-1zM187 503h1v1h-1zM230 503h3v1h-3zM260 503h1v1h-1zM274 503h3v1h-3zM469 503h2v1h-2zM496 503h6v1h-6zM518 503h1v1h-1zM522 503h1v1h-1zM537 503h2v1h-2zM542 503h3v1h-3zM558 503h1v1h-1zM562 503h1v1h-1zM582 503h1v1h-1zM586 503h1v1h-1zM742 503h3v1h-3zM12 525h1v1h-1zM355 525h1v1h-1zM357 525h2v1h-2zM410 525h3v1h-3zM419 525h2v1h-2zM824 525h1v1h-1zM22 519h3v1h-3zM31 519h1v1h-1zM108 519h1v1h-1zM121 519h2v1h-2zM125 519h1v1h-1zM315 519h2v1h-2zM322 519h2v1h-2zM325 519h2v1h-2zM335 519h1v1h-1zM338 519h3v1h-3zM352 519h1v1h-1zM366 519h1v1h-1zM381 519h2v1h-2zM385 519h1v1h-1zM399 519h1v1h-1zM429 519h1v1h-1zM695 519h2v1h-2zM725 519h2v1h-2zM728 519h1v1h-1zM821 519h1v1h-1zM847 519h1v1h-1zM850 519h3v1h-3zM182 500h1v1h-1zM185 500h1v1h-1zM236 500h1v1h-1zM242 500h1v1h-1zM251 500h3v1h-3zM257 500h1v1h-1zM477 500h2v1h-2zM491 500h2v1h-2zM511 500h3v1h-3zM530 500h2v1h-2zM533 500h1v1h-1zM583 500h1v1h-1zM585 500h1v1h-1zM15 522h1v1h-1zM27 522h1v1h-1zM29 522h1v1h-1zM331 522h2v1h-2zM354 522h1v1h-1zM363 522h2v1h-2zM405 522h1v1h-1zM423 522h1v1h-1zM823 522h1v1h-1zM826 522h1v1h-1zM838 522h7v1h-7zM60 510h1v1h-1zM71 510h1v1h-1zM73 510h1v1h-1zM135 510h1v1h-1zM146 510h3v1h-3zM153 510h1v1h-1zM196 510h1v1h-1zM288 510h2v1h-2zM465 510h1v1h-1zM568 510h1v1h-1zM590 510h1v1h-1zM614 510h1v1h-1zM660 510h1v1h-1zM670 510h2v1h-2zM673 510h1v1h-1zM733 510h1v1h-1zM751 510h3v1h-3zM757 510h2v1h-2zM761 510h1v1h-1zM770 510h1v1h-1zM799 510h1v1h-1zM801 510h2v1h-2zM181 501h1v1h-1zM186 501h1v1h-1zM234 501h2v1h-2zM237 501h2v1h-2zM241 501h1v1h-1zM258 501h1v1h-1zM474 501h3v1h-3zM493 501h1v1h-1zM509 501h2v1h-2zM514 501h3v1h-3zM524 501h2v1h-2zM529 501h1v1h-1zM534 501h2v1h-2zM560 501h1v1h-1zM583 501h1v1h-1zM585 501h1v1h-1zM184 498h1v1h-1zM243 498h1v1h-1zM246 498h3v1h-3zM482 498h7v1h-7zM584 498h1v1h-1zM4 528h5v1h-5zM13 524h1v1h-1zM355 524h1v1h-1zM359 524h2v1h-2zM408 524h2v1h-2zM421 524h1v1h-1zM824 524h2v1h-2zM9 527h1v1h-1zM415 527h2v1h-2zM244 497h2v1h-2z" fill="#1e90ff"/>
<text x="8" y="487" class="ax" textLength="69" lengthAdjust="spacingAndGlyphs">RSI(14) 45.5630</text>
<rect x="1167" y="475" width="2" height="1" fill="#000"/>
<text x="1170" y="485" class="ax">100</text>
<text x="1169" y="500" class="ax">70</text>
<text x="1169" y="528" class="ax">30</text>
<rect x="1167" y="545" width="2" height="1" fill="#000"/>
<text x="1170" y="543" class="ax">0</text>
<rect x="4" y="547" width="1" height="3" fill="#000"/>
<text x="3" y="559" class="ax tl">4 Jan 2021</text>
<rect x="68" y="547" width="1" height="3" fill="#000"/>
<text x="67" y="559" class="ax tl">26 Jan 2021</text>
<rect x="132" y="547" width="1" height="3" fill="#000"/>
<text x="131" y="559" class="ax tl">17 Feb 2021</text>
<rect x="196" y="547" width="1" height="3" fill="#000"/>
<text x="195" y="559" class="ax tl">11 Mar 2021</text>
<rect x="260" y="547" width="1" height="3" fill="#000"/>
<text x="259" y="559" class="ax tl">5 Apr 2021</text>
<rect x="324" y="547" width="1" height="3" fill="#000"/>
<text x="323" y="559" class="ax tl">27 Apr 2021</text>
<rect x="388" y="547" width="1" height="3" fill="#000"/>
<text x="387" y="559" class="ax tl">19 May 2021</text>
<rect x="452" y="547" width="1" height="3" fill="#000"/>
<text x="451" y="559" class="ax tl">10 Jun 2021</text>
<rect x="516" y="547" width="1" height="3" fill="#000"/>
<text x="515" y="559" class="ax tl">2 Jul 2021</text>
<rect x="580" y="547" width="1" height="3" fill="#000"/>
<text x="579" y="559" class="ax tl">26 Jul 2021</text>
<rect x="644" y="547" width="1" height="3" fill="#000"/>
<text x="643" y="559" class="ax tl">17 Aug 2021</text>
<rect x="708" y="547" width="1" height="3" fill="#000"/>
<text x="707" y="559" class="ax tl">8 Sep 2021</text>
<rect x="772" y="547" width="1" height="3" fill="#000"/>
<text x="771" y="559" class="ax tl">30 Sep 2021</text>
<rect x="836" y="547" width="1" height="3" fill="#000"/>
<text x="835" y="559" class="ax tl">22 Oct 2021</text>
<rect x="900" y="547" width="1" height="3" fill="#000"/>
<text x="899" y="559" class="ax tl">15 Nov 2021</text>
<path d="M7 34 L11 30 L15 34 Z" fill="#000" shape-rendering="geometricPrecision"/>
<text x="19" y="35" class="ax" textLength="70" lengthAdjust="spacingAndGlyphs">USDCNH-,Daily</text>
<text x="93" y="35" class="ax">6.38788</text>
<text x="129" y="35" class="ax">6.38808</text>
<text x="165" y="35" class="ax">6.38745</text>
<text x="201" y="35" class="ax">6.38747</text>
</svg>
<!-- one click panel -->
<div class="abs" style="left:7px;top:67px;width:109px;height:33px;border:1px solid #0000a4;background:linear-gradient(#3838e6,#0a0ab2)"></div>
<div class="abs" style="left:118px;top:67px;width:108px;height:33px;border:1px solid #0000a4;background:linear-gradient(#3838e6,#0a0ab2)"></div>
<div class="abs" style="left:7px;top:43px;width:52px;height:25px;border:1px solid #0000a4;border-bottom:none;background:linear-gradient(#5858ff,#3a3ae2)"></div>
<div class="abs" style="left:174px;top:43px;width:52px;height:25px;border:1px solid #0000a4;border-bottom:none;background:linear-gradient(#5858ff,#3a3ae2)"></div>
<div class="abs" style="left:11px;top:66px;width:44px;height:1px;background:#1c1ca8"></div>
<div class="abs" style="left:11px;top:67px;width:44px;height:1px;background:#7878ff"></div>
<div class="abs" style="left:178px;top:66px;width:44px;height:1px;background:#1c1ca8"></div>
<div class="abs" style="left:178px;top:67px;width:44px;height:1px;background:#7878ff"></div>
<div class="abs" style="left:59px;top:42px;width:116px;height:25px;background:#fff"></div>
<div class="abs" style="left:61px;top:43px;width:111px;height:22px;border:1px solid #a8a8a8;background:#fff"></div>
<div class="abs" style="left:62px;top:44px;width:20px;height:20px;background:linear-gradient(#eeeeee,#d0d0d0);border-right:1px solid #b4b4b4"></div>
<div class="abs" style="left:151px;top:44px;width:20px;height:20px;background:linear-gradient(#eeeeee,#d0d0d0);border-left:1px solid #b4b4b4"></div>
<svg class="abs" style="left:0;top:0" width="240" height="110" shape-rendering="crispEdges">
<path d="M69 52 h5 l-2.5 3 z" fill="#5868b8" shape-rendering="geometricPrecision"/>
<path d="M158 55 h5 l-2.5 -3 z" fill="#5868b8" shape-rendering="geometricPrecision"/>
</svg>
<div class="pn" style="left:122px;top:48px;font-size:13px;color:#000">3.00</div>
<div class="pn" style="left:19px;top:49px;font-size:12.5px;color:#e4e4ff">SELL</div>
<div class="pn" style="left:186px;top:49px;font-size:12.5px;letter-spacing:1px;color:#e4e4ff">BUY</div>
<div class="pn" style="left:26px;top:85px;font-size:12px;font-weight:bold">6.38</div>
<div class="pn" style="left:54px;top:63px;font-size:35px;font-weight:300;font-family:'Noto Sans CJK SC',sans-serif">74</div>
<div class="pn" style="left:94px;top:70px;font-size:12px;font-weight:bold">7</div>
<div class="pn" style="left:136px;top:85px;font-size:12px;font-weight:bold">6.38</div>
<div class="pn" style="left:166px;top:63px;font-size:35px;font-weight:300;font-family:'Noto Sans CJK SC',sans-serif">97</div>
<div class="pn" style="left:205px;top:70px;font-size:12px;font-weight:bold">6</div>
<!-- tab bar -->
<div id="tabbar">
<div class="abs" style="left:0;top:0;width:1206px;height:1px;background:#e3e3e3"></div>
<div class="abs" style="left:0;top:1px;width:1206px;height:1px;background:#fafafa"></div>
<div class="abs" style="left:0;top:2px;width:1206px;height:1px;background:#000"></div>
<div class="abs" style="left:0;top:3px;width:1px;height:18px;background:#696969"></div>
<div class="abs" style="left:0;top:22px;width:1206px;height:1px;background:#fcfcfc"></div>
<div class="abs" style="left:0;top:25px;width:1206px;height:1px;background:#b4b4b4"></div>
<div class="abs" style="left:0;top:26px;width:1206px;height:1px;background:#a0a0a0"></div>
<div class="abs" style="left:525px;top:2px;width:112px;height:20px;background:#fff;border:2px solid #000;border-top:none"></div>
<div class="tab" style="left:15px">USDX,Weekly</div>
<div class="tab" style="left:115px">EURUSD-,Daily</div>
<div class="tab" style="left:222px">AUDUSD-,Daily</div>
<div class="tab" style="left:332px">USDCHF-,H4</div>
<div class="tab" style="left:427px">USDCAD-,Daily</div>
<div class="tab act" style="left:536px">USDCNH-,Daily</div>
<div class="tab" style="left:647px">XAUUSD-,Daily</div>
<div class="tab" style="left:755px">UKOil-,Daily</div>
<div class="tab" style="left:847px">DJ30-,Weekly</div>
<div class="tab" style="left:947px">UK100-,Daily</div>
<div class="tsep" style="left:105px"></div>
<div class="tsep" style="left:213px"></div>
<div class="tsep" style="left:322px"></div>
<div class="tsep" style="left:417px"></div>
<div class="tsep" style="left:745px"></div>
<div class="tsep" style="left:837px"></div>
<div class="tsep" style="left:937px"></div>
<div class="tsep" style="left:1033px"></div>
<svg class="abs" style="left:1175px;top:0" width="31" height="27">
<path d="M10 11.5 L6 8 L10 4.5 Z" transform="translate(0,3)" fill="#808080"/>
<path d="M26 11.5 L30 8 L26 4.5 Z" transform="translate(0,3)" fill="#808080"/>
</svg>
</div>
</body></html>
